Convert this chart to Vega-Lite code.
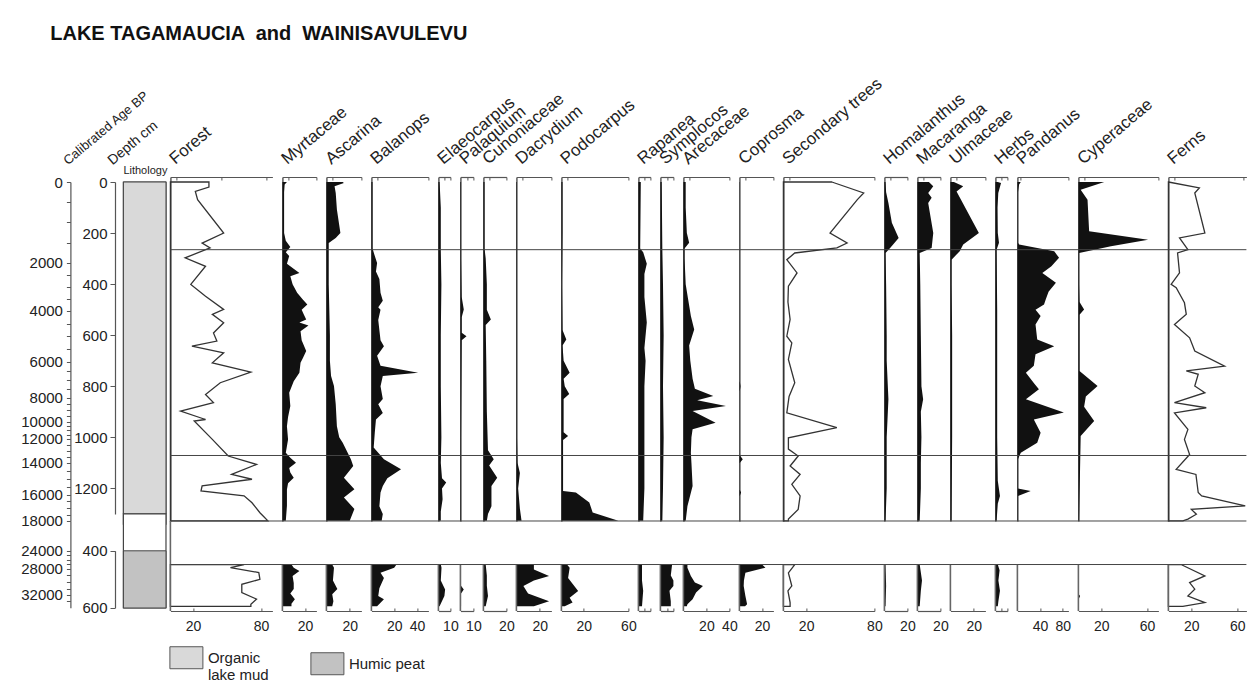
{
"$schema":"https://vega.github.io/schema/vega-lite/v6.json",
"padding":{"left":20.4,"top":23,"right":5,"bottom":5},
"title":{"text":"LAKE TAGAMAUCIA \u00a0and \u00a0WAINISAVULEVU","angle":0,"fontSize":20,"fontWeight":"bold","anchor":"start","offset":31,"dx":29.6,"color":"#111"},
"datasets":{
"zonesT":[{"depth":265},{"depth":1071},{"depth":1327.5}],
"zonesW":[{"depth":448}],
"segW":[{"top":448,"bottom":610.5}],
"segWF":[{"top":295.8,"bottom":610.5}],
"pollen":[
{"taxon":"Forest","core":"T","depth":0,"pct":34},{"taxon":"Forest","core":"T","depth":20,"pct":34},{"taxon":"Forest","core":"T","depth":37,"pct":22},{"taxon":"Forest","core":"T","depth":69,"pct":24},{"taxon":"Forest","core":"T","depth":200,"pct":47},{"taxon":"Forest","core":"T","depth":239,"pct":28},{"taxon":"Forest","core":"T","depth":258,"pct":35},{"taxon":"Forest","core":"T","depth":297,"pct":13},{"taxon":"Forest","core":"T","depth":330,"pct":31},{"taxon":"Forest","core":"T","depth":401,"pct":18},{"taxon":"Forest","core":"T","depth":447,"pct":31},{"taxon":"Forest","core":"T","depth":499,"pct":47},{"taxon":"Forest","core":"T","depth":518,"pct":37},{"taxon":"Forest","core":"T","depth":551,"pct":47},{"taxon":"Forest","core":"T","depth":591,"pct":38},{"taxon":"Forest","core":"T","depth":623,"pct":41},{"taxon":"Forest","core":"T","depth":643,"pct":19},{"taxon":"Forest","core":"T","depth":669,"pct":47},{"taxon":"Forest","core":"T","depth":708,"pct":37},{"taxon":"Forest","core":"T","depth":744,"pct":71},{"taxon":"Forest","core":"T","depth":786,"pct":44},{"taxon":"Forest","core":"T","depth":832,"pct":31},{"taxon":"Forest","core":"T","depth":864,"pct":38},{"taxon":"Forest","core":"T","depth":897,"pct":9},{"taxon":"Forest","core":"T","depth":930,"pct":31},{"taxon":"Forest","core":"T","depth":936,"pct":21},{"taxon":"Forest","core":"T","depth":1008,"pct":37},{"taxon":"Forest","core":"T","depth":1073,"pct":51},{"taxon":"Forest","core":"T","depth":1106,"pct":76},{"taxon":"Forest","core":"T","depth":1145,"pct":54},{"taxon":"Forest","core":"T","depth":1164,"pct":72},{"taxon":"Forest","core":"T","depth":1190,"pct":28},{"taxon":"Forest","core":"T","depth":1210,"pct":27},{"taxon":"Forest","core":"T","depth":1229,"pct":65},{"taxon":"Forest","core":"T","depth":1256,"pct":72},{"taxon":"Forest","core":"T","depth":1295,"pct":79},{"taxon":"Forest","core":"T","depth":1327,"pct":86},
{"taxon":"Forest","core":"W","depth":448,"pct":65},{"taxon":"Forest","core":"W","depth":459,"pct":53},{"taxon":"Forest","core":"W","depth":476,"pct":78},{"taxon":"Forest","core":"W","depth":500,"pct":79},{"taxon":"Forest","core":"W","depth":517,"pct":63},{"taxon":"Forest","core":"W","depth":546,"pct":63},{"taxon":"Forest","core":"W","depth":569,"pct":76},{"taxon":"Forest","core":"W","depth":587,"pct":71},{"taxon":"Forest","core":"W","depth":594,"pct":71},
{"taxon":"Myrtaceae","core":"T","depth":0,"pct":4},{"taxon":"Myrtaceae","core":"T","depth":10,"pct":2},{"taxon":"Myrtaceae","core":"T","depth":40,"pct":1.5},{"taxon":"Myrtaceae","core":"T","depth":200,"pct":1.5},{"taxon":"Myrtaceae","core":"T","depth":230,"pct":3},{"taxon":"Myrtaceae","core":"T","depth":255,"pct":7},{"taxon":"Myrtaceae","core":"T","depth":275,"pct":3},{"taxon":"Myrtaceae","core":"T","depth":290,"pct":6},{"taxon":"Myrtaceae","core":"T","depth":320,"pct":4},{"taxon":"Myrtaceae","core":"T","depth":356,"pct":15},{"taxon":"Myrtaceae","core":"T","depth":369,"pct":7},{"taxon":"Myrtaceae","core":"T","depth":400,"pct":9},{"taxon":"Myrtaceae","core":"T","depth":434,"pct":13},{"taxon":"Myrtaceae","core":"T","depth":460,"pct":18},{"taxon":"Myrtaceae","core":"T","depth":480,"pct":22},{"taxon":"Myrtaceae","core":"T","depth":500,"pct":17},{"taxon":"Myrtaceae","core":"T","depth":520,"pct":19},{"taxon":"Myrtaceae","core":"T","depth":538,"pct":21},{"taxon":"Myrtaceae","core":"T","depth":550,"pct":15},{"taxon":"Myrtaceae","core":"T","depth":562,"pct":23},{"taxon":"Myrtaceae","core":"T","depth":584,"pct":16},{"taxon":"Myrtaceae","core":"T","depth":620,"pct":17},{"taxon":"Myrtaceae","core":"T","depth":662,"pct":21},{"taxon":"Myrtaceae","core":"T","depth":690,"pct":18},{"taxon":"Myrtaceae","core":"T","depth":708,"pct":16},{"taxon":"Myrtaceae","core":"T","depth":747,"pct":15},{"taxon":"Myrtaceae","core":"T","depth":780,"pct":10},{"taxon":"Myrtaceae","core":"T","depth":825,"pct":6},{"taxon":"Myrtaceae","core":"T","depth":877,"pct":7},{"taxon":"Myrtaceae","core":"T","depth":920,"pct":5},{"taxon":"Myrtaceae","core":"T","depth":956,"pct":4},{"taxon":"Myrtaceae","core":"T","depth":1008,"pct":5},{"taxon":"Myrtaceae","core":"T","depth":1060,"pct":3},{"taxon":"Myrtaceae","core":"T","depth":1080,"pct":7},{"taxon":"Myrtaceae","core":"T","depth":1099,"pct":12},{"taxon":"Myrtaceae","core":"T","depth":1120,"pct":6},{"taxon":"Myrtaceae","core":"T","depth":1138,"pct":7},{"taxon":"Myrtaceae","core":"T","depth":1158,"pct":10},{"taxon":"Myrtaceae","core":"T","depth":1180,"pct":5},{"taxon":"Myrtaceae","core":"T","depth":1204,"pct":4},{"taxon":"Myrtaceae","core":"T","depth":1268,"pct":4},{"taxon":"Myrtaceae","core":"T","depth":1327,"pct":3},
{"taxon":"Myrtaceae","core":"W","depth":448,"pct":8},{"taxon":"Myrtaceae","core":"W","depth":459,"pct":10},{"taxon":"Myrtaceae","core":"W","depth":471,"pct":15},{"taxon":"Myrtaceae","core":"W","depth":488,"pct":9},{"taxon":"Myrtaceae","core":"W","depth":513,"pct":10},{"taxon":"Myrtaceae","core":"W","depth":534,"pct":10},{"taxon":"Myrtaceae","core":"W","depth":549,"pct":7},{"taxon":"Myrtaceae","core":"W","depth":569,"pct":11},{"taxon":"Myrtaceae","core":"W","depth":585,"pct":8},{"taxon":"Myrtaceae","core":"W","depth":594,"pct":8},
{"taxon":"Ascarina","core":"T","depth":0,"pct":14},{"taxon":"Ascarina","core":"T","depth":4,"pct":15},{"taxon":"Ascarina","core":"T","depth":17,"pct":7},{"taxon":"Ascarina","core":"T","depth":43,"pct":8},{"taxon":"Ascarina","core":"T","depth":108,"pct":9},{"taxon":"Ascarina","core":"T","depth":200,"pct":12},{"taxon":"Ascarina","core":"T","depth":219,"pct":8},{"taxon":"Ascarina","core":"T","depth":239,"pct":2},{"taxon":"Ascarina","core":"T","depth":270,"pct":2},{"taxon":"Ascarina","core":"T","depth":400,"pct":2},{"taxon":"Ascarina","core":"T","depth":600,"pct":3},{"taxon":"Ascarina","core":"T","depth":700,"pct":3},{"taxon":"Ascarina","core":"T","depth":760,"pct":4},{"taxon":"Ascarina","core":"T","depth":799,"pct":6.5},{"taxon":"Ascarina","core":"T","depth":870,"pct":8},{"taxon":"Ascarina","core":"T","depth":956,"pct":9},{"taxon":"Ascarina","core":"T","depth":1000,"pct":11},{"taxon":"Ascarina","core":"T","depth":1021,"pct":14},{"taxon":"Ascarina","core":"T","depth":1086,"pct":21},{"taxon":"Ascarina","core":"T","depth":1112,"pct":23},{"taxon":"Ascarina","core":"T","depth":1158,"pct":15},{"taxon":"Ascarina","core":"T","depth":1203,"pct":24},{"taxon":"Ascarina","core":"T","depth":1235,"pct":15},{"taxon":"Ascarina","core":"T","depth":1281,"pct":24},{"taxon":"Ascarina","core":"T","depth":1327,"pct":20},
{"taxon":"Ascarina","core":"W","depth":448,"pct":5},{"taxon":"Ascarina","core":"W","depth":459,"pct":6.5},{"taxon":"Ascarina","core":"W","depth":504,"pct":5.6},{"taxon":"Ascarina","core":"W","depth":534,"pct":9.4},{"taxon":"Ascarina","core":"W","depth":552,"pct":5},{"taxon":"Ascarina","core":"W","depth":576,"pct":6},{"taxon":"Ascarina","core":"W","depth":594,"pct":5},
{"taxon":"Balanops","core":"T","depth":0,"pct":1},{"taxon":"Balanops","core":"T","depth":260,"pct":1},{"taxon":"Balanops","core":"T","depth":290,"pct":3},{"taxon":"Balanops","core":"T","depth":317,"pct":5},{"taxon":"Balanops","core":"T","depth":350,"pct":4},{"taxon":"Balanops","core":"T","depth":380,"pct":7},{"taxon":"Balanops","core":"T","depth":434,"pct":8},{"taxon":"Balanops","core":"T","depth":465,"pct":10},{"taxon":"Balanops","core":"T","depth":490,"pct":6},{"taxon":"Balanops","core":"T","depth":500,"pct":8},{"taxon":"Balanops","core":"T","depth":540,"pct":6},{"taxon":"Balanops","core":"T","depth":620,"pct":8},{"taxon":"Balanops","core":"T","depth":643,"pct":11},{"taxon":"Balanops","core":"T","depth":680,"pct":5},{"taxon":"Balanops","core":"T","depth":720,"pct":8},{"taxon":"Balanops","core":"T","depth":747,"pct":41},{"taxon":"Balanops","core":"T","depth":760,"pct":10},{"taxon":"Balanops","core":"T","depth":800,"pct":8},{"taxon":"Balanops","core":"T","depth":850,"pct":10},{"taxon":"Balanops","core":"T","depth":870,"pct":6},{"taxon":"Balanops","core":"T","depth":905,"pct":10},{"taxon":"Balanops","core":"T","depth":930,"pct":4},{"taxon":"Balanops","core":"T","depth":980,"pct":3},{"taxon":"Balanops","core":"T","depth":1040,"pct":2},{"taxon":"Balanops","core":"T","depth":1060,"pct":6},{"taxon":"Balanops","core":"T","depth":1086,"pct":11},{"taxon":"Balanops","core":"T","depth":1125,"pct":26},{"taxon":"Balanops","core":"T","depth":1160,"pct":14},{"taxon":"Balanops","core":"T","depth":1190,"pct":10},{"taxon":"Balanops","core":"T","depth":1216,"pct":8},{"taxon":"Balanops","core":"T","depth":1270,"pct":7},{"taxon":"Balanops","core":"T","depth":1300,"pct":10},{"taxon":"Balanops","core":"T","depth":1327,"pct":9},
{"taxon":"Balanops","core":"W","depth":448,"pct":22},{"taxon":"Balanops","core":"W","depth":459,"pct":20},{"taxon":"Balanops","core":"W","depth":477,"pct":8},{"taxon":"Balanops","core":"W","depth":495,"pct":11},{"taxon":"Balanops","core":"W","depth":531,"pct":7},{"taxon":"Balanops","core":"W","depth":558,"pct":6},{"taxon":"Balanops","core":"W","depth":569,"pct":11},{"taxon":"Balanops","core":"W","depth":594,"pct":5},
{"taxon":"Elaeocarpus","core":"T","depth":0,"pct":1},{"taxon":"Elaeocarpus","core":"T","depth":100,"pct":2},{"taxon":"Elaeocarpus","core":"T","depth":265,"pct":2},{"taxon":"Elaeocarpus","core":"T","depth":400,"pct":2.5},{"taxon":"Elaeocarpus","core":"T","depth":600,"pct":2},{"taxon":"Elaeocarpus","core":"T","depth":800,"pct":2},{"taxon":"Elaeocarpus","core":"T","depth":1000,"pct":2.5},{"taxon":"Elaeocarpus","core":"T","depth":1100,"pct":2},{"taxon":"Elaeocarpus","core":"T","depth":1160,"pct":3},{"taxon":"Elaeocarpus","core":"T","depth":1177,"pct":6.5},{"taxon":"Elaeocarpus","core":"T","depth":1200,"pct":3},{"taxon":"Elaeocarpus","core":"T","depth":1242,"pct":3.5},{"taxon":"Elaeocarpus","core":"T","depth":1290,"pct":2},{"taxon":"Elaeocarpus","core":"T","depth":1327,"pct":2},
{"taxon":"Elaeocarpus","core":"W","depth":448,"pct":2},{"taxon":"Elaeocarpus","core":"W","depth":459,"pct":2.6},{"taxon":"Elaeocarpus","core":"W","depth":504,"pct":2},{"taxon":"Elaeocarpus","core":"W","depth":535,"pct":5.6},{"taxon":"Elaeocarpus","core":"W","depth":558,"pct":5},{"taxon":"Elaeocarpus","core":"W","depth":594,"pct":1},
{"taxon":"Palaquium","core":"T","depth":0,"pct":0.5},{"taxon":"Palaquium","core":"T","depth":300,"pct":0.5},{"taxon":"Palaquium","core":"T","depth":450,"pct":1},{"taxon":"Palaquium","core":"T","depth":499,"pct":2.6},{"taxon":"Palaquium","core":"T","depth":530,"pct":1},{"taxon":"Palaquium","core":"T","depth":590,"pct":1},{"taxon":"Palaquium","core":"T","depth":604,"pct":4.7},{"taxon":"Palaquium","core":"T","depth":620,"pct":1},{"taxon":"Palaquium","core":"T","depth":1000,"pct":0.5},{"taxon":"Palaquium","core":"T","depth":1327,"pct":0.5},
{"taxon":"Palaquium","core":"W","depth":448,"pct":0.5},{"taxon":"Palaquium","core":"W","depth":522,"pct":0.5},{"taxon":"Palaquium","core":"W","depth":535,"pct":2.6},{"taxon":"Palaquium","core":"W","depth":549,"pct":0.5},{"taxon":"Palaquium","core":"W","depth":594,"pct":0.5},
{"taxon":"Cunoniaceae","core":"T","depth":0,"pct":1},{"taxon":"Cunoniaceae","core":"T","depth":260,"pct":1},{"taxon":"Cunoniaceae","core":"T","depth":300,"pct":2},{"taxon":"Cunoniaceae","core":"T","depth":400,"pct":3},{"taxon":"Cunoniaceae","core":"T","depth":500,"pct":3},{"taxon":"Cunoniaceae","core":"T","depth":538,"pct":6.5},{"taxon":"Cunoniaceae","core":"T","depth":560,"pct":2},{"taxon":"Cunoniaceae","core":"T","depth":700,"pct":2.5},{"taxon":"Cunoniaceae","core":"T","depth":900,"pct":3},{"taxon":"Cunoniaceae","core":"T","depth":1050,"pct":4},{"taxon":"Cunoniaceae","core":"T","depth":1086,"pct":9},{"taxon":"Cunoniaceae","core":"T","depth":1110,"pct":5},{"taxon":"Cunoniaceae","core":"T","depth":1158,"pct":12},{"taxon":"Cunoniaceae","core":"T","depth":1190,"pct":7},{"taxon":"Cunoniaceae","core":"T","depth":1230,"pct":7},{"taxon":"Cunoniaceae","core":"T","depth":1270,"pct":7},{"taxon":"Cunoniaceae","core":"T","depth":1300,"pct":4},{"taxon":"Cunoniaceae","core":"T","depth":1327,"pct":3},
{"taxon":"Cunoniaceae","core":"W","depth":448,"pct":2},{"taxon":"Cunoniaceae","core":"W","depth":486,"pct":3},{"taxon":"Cunoniaceae","core":"W","depth":522,"pct":3},{"taxon":"Cunoniaceae","core":"W","depth":558,"pct":4},{"taxon":"Cunoniaceae","core":"W","depth":594,"pct":2},
{"taxon":"Dacrydium","core":"T","depth":0,"pct":0.5},{"taxon":"Dacrydium","core":"T","depth":1000,"pct":0.5},{"taxon":"Dacrydium","core":"T","depth":1100,"pct":1},{"taxon":"Dacrydium","core":"T","depth":1140,"pct":3},{"taxon":"Dacrydium","core":"T","depth":1200,"pct":1.5},{"taxon":"Dacrydium","core":"T","depth":1280,"pct":3},{"taxon":"Dacrydium","core":"T","depth":1327,"pct":4.4},
{"taxon":"Dacrydium","core":"W","depth":448,"pct":15},{"taxon":"Dacrydium","core":"W","depth":465,"pct":15},{"taxon":"Dacrydium","core":"W","depth":488,"pct":28},{"taxon":"Dacrydium","core":"W","depth":504,"pct":15},{"taxon":"Dacrydium","core":"W","depth":523,"pct":6},{"taxon":"Dacrydium","core":"W","depth":549,"pct":10},{"taxon":"Dacrydium","core":"W","depth":576,"pct":28},{"taxon":"Dacrydium","core":"W","depth":594,"pct":15},
{"taxon":"Podocarpus","core":"T","depth":0,"pct":1},{"taxon":"Podocarpus","core":"T","depth":200,"pct":1},{"taxon":"Podocarpus","core":"T","depth":400,"pct":0.5},{"taxon":"Podocarpus","core":"T","depth":580,"pct":1},{"taxon":"Podocarpus","core":"T","depth":617,"pct":4.4},{"taxon":"Podocarpus","core":"T","depth":640,"pct":1},{"taxon":"Podocarpus","core":"T","depth":700,"pct":2},{"taxon":"Podocarpus","core":"T","depth":747,"pct":7.4},{"taxon":"Podocarpus","core":"T","depth":770,"pct":2},{"taxon":"Podocarpus","core":"T","depth":800,"pct":3},{"taxon":"Podocarpus","core":"T","depth":830,"pct":7},{"taxon":"Podocarpus","core":"T","depth":850,"pct":2},{"taxon":"Podocarpus","core":"T","depth":980,"pct":2},{"taxon":"Podocarpus","core":"T","depth":995,"pct":6},{"taxon":"Podocarpus","core":"T","depth":1010,"pct":1.5},{"taxon":"Podocarpus","core":"T","depth":1210,"pct":1.5},{"taxon":"Podocarpus","core":"T","depth":1216,"pct":13},{"taxon":"Podocarpus","core":"T","depth":1255,"pct":25},{"taxon":"Podocarpus","core":"T","depth":1294,"pct":28},{"taxon":"Podocarpus","core":"T","depth":1327,"pct":51},
{"taxon":"Podocarpus","core":"W","depth":448,"pct":5},{"taxon":"Podocarpus","core":"W","depth":459,"pct":7.4},{"taxon":"Podocarpus","core":"W","depth":495,"pct":6},{"taxon":"Podocarpus","core":"W","depth":541,"pct":15},{"taxon":"Podocarpus","core":"W","depth":564,"pct":7.4},{"taxon":"Podocarpus","core":"W","depth":581,"pct":10},{"taxon":"Podocarpus","core":"W","depth":594,"pct":3},
{"taxon":"Rapanea","core":"T","depth":0,"pct":2},{"taxon":"Rapanea","core":"T","depth":260,"pct":1.5},{"taxon":"Rapanea","core":"T","depth":275,"pct":4},{"taxon":"Rapanea","core":"T","depth":320,"pct":7},{"taxon":"Rapanea","core":"T","depth":360,"pct":5},{"taxon":"Rapanea","core":"T","depth":450,"pct":5},{"taxon":"Rapanea","core":"T","depth":550,"pct":7},{"taxon":"Rapanea","core":"T","depth":650,"pct":5},{"taxon":"Rapanea","core":"T","depth":700,"pct":6},{"taxon":"Rapanea","core":"T","depth":800,"pct":5},{"taxon":"Rapanea","core":"T","depth":900,"pct":5},{"taxon":"Rapanea","core":"T","depth":1000,"pct":5},{"taxon":"Rapanea","core":"T","depth":1100,"pct":5},{"taxon":"Rapanea","core":"T","depth":1200,"pct":5},{"taxon":"Rapanea","core":"T","depth":1327,"pct":4},
{"taxon":"Rapanea","core":"W","depth":448,"pct":3},{"taxon":"Rapanea","core":"W","depth":504,"pct":3},{"taxon":"Rapanea","core":"W","depth":540,"pct":4},{"taxon":"Rapanea","core":"W","depth":594,"pct":3},
{"taxon":"Symplocos","core":"T","depth":0,"pct":1},{"taxon":"Symplocos","core":"T","depth":265,"pct":1.5},{"taxon":"Symplocos","core":"T","depth":400,"pct":2},{"taxon":"Symplocos","core":"T","depth":600,"pct":2.5},{"taxon":"Symplocos","core":"T","depth":800,"pct":2},{"taxon":"Symplocos","core":"T","depth":1000,"pct":2.5},{"taxon":"Symplocos","core":"T","depth":1200,"pct":2},{"taxon":"Symplocos","core":"T","depth":1327,"pct":1.5},
{"taxon":"Symplocos","core":"W","depth":448,"pct":9},{"taxon":"Symplocos","core":"W","depth":486,"pct":8},{"taxon":"Symplocos","core":"W","depth":504,"pct":10},{"taxon":"Symplocos","core":"W","depth":523,"pct":10},{"taxon":"Symplocos","core":"W","depth":540,"pct":7},{"taxon":"Symplocos","core":"W","depth":576,"pct":8},{"taxon":"Symplocos","core":"W","depth":594,"pct":8},
{"taxon":"Arecaceae","core":"T","depth":0,"pct":2},{"taxon":"Arecaceae","core":"T","depth":100,"pct":2},{"taxon":"Arecaceae","core":"T","depth":200,"pct":3},{"taxon":"Arecaceae","core":"T","depth":238,"pct":5},{"taxon":"Arecaceae","core":"T","depth":260,"pct":1},{"taxon":"Arecaceae","core":"T","depth":300,"pct":1},{"taxon":"Arecaceae","core":"T","depth":400,"pct":2},{"taxon":"Arecaceae","core":"T","depth":456,"pct":4},{"taxon":"Arecaceae","core":"T","depth":525,"pct":6.5},{"taxon":"Arecaceae","core":"T","depth":578,"pct":9.4},{"taxon":"Arecaceae","core":"T","depth":640,"pct":5},{"taxon":"Arecaceae","core":"T","depth":700,"pct":6},{"taxon":"Arecaceae","core":"T","depth":770,"pct":8},{"taxon":"Arecaceae","core":"T","depth":810,"pct":10},{"taxon":"Arecaceae","core":"T","depth":838,"pct":26},{"taxon":"Arecaceae","core":"T","depth":855,"pct":12},{"taxon":"Arecaceae","core":"T","depth":877,"pct":37},{"taxon":"Arecaceae","core":"T","depth":897,"pct":8},{"taxon":"Arecaceae","core":"T","depth":943,"pct":28},{"taxon":"Arecaceae","core":"T","depth":968,"pct":8},{"taxon":"Arecaceae","core":"T","depth":1000,"pct":7},{"taxon":"Arecaceae","core":"T","depth":1060,"pct":6.5},{"taxon":"Arecaceae","core":"T","depth":1100,"pct":7},{"taxon":"Arecaceae","core":"T","depth":1190,"pct":8},{"taxon":"Arecaceae","core":"T","depth":1270,"pct":3.5},{"taxon":"Arecaceae","core":"T","depth":1327,"pct":2},
{"taxon":"Arecaceae","core":"W","depth":448,"pct":3.5},{"taxon":"Arecaceae","core":"W","depth":459,"pct":3.5},{"taxon":"Arecaceae","core":"W","depth":488,"pct":6.5},{"taxon":"Arecaceae","core":"W","depth":511,"pct":10},{"taxon":"Arecaceae","core":"W","depth":523,"pct":17},{"taxon":"Arecaceae","core":"W","depth":546,"pct":11},{"taxon":"Arecaceae","core":"W","depth":569,"pct":8},{"taxon":"Arecaceae","core":"W","depth":587,"pct":3.5},{"taxon":"Arecaceae","core":"W","depth":594,"pct":3},
{"taxon":"Coprosma","core":"T","depth":0,"pct":0.3},{"taxon":"Coprosma","core":"T","depth":780,"pct":0.3},{"taxon":"Coprosma","core":"T","depth":800,"pct":1},{"taxon":"Coprosma","core":"T","depth":820,"pct":0.3},{"taxon":"Coprosma","core":"T","depth":1070,"pct":0.3},{"taxon":"Coprosma","core":"T","depth":1086,"pct":3},{"taxon":"Coprosma","core":"T","depth":1100,"pct":0.3},{"taxon":"Coprosma","core":"T","depth":1205,"pct":0.3},{"taxon":"Coprosma","core":"T","depth":1216,"pct":1.5},{"taxon":"Coprosma","core":"T","depth":1230,"pct":0.3},{"taxon":"Coprosma","core":"T","depth":1327,"pct":0.3},
{"taxon":"Coprosma","core":"W","depth":448,"pct":20},{"taxon":"Coprosma","core":"W","depth":459,"pct":23},{"taxon":"Coprosma","core":"W","depth":477,"pct":5.3},{"taxon":"Coprosma","core":"W","depth":504,"pct":4},{"taxon":"Coprosma","core":"W","depth":523,"pct":3.8},{"taxon":"Coprosma","core":"W","depth":558,"pct":5.3},{"taxon":"Coprosma","core":"W","depth":587,"pct":6.8},{"taxon":"Coprosma","core":"W","depth":594,"pct":5},
{"taxon":"Secondary trees","core":"T","depth":0,"pct":42.6},{"taxon":"Secondary trees","core":"T","depth":43,"pct":70.6},{"taxon":"Secondary trees","core":"T","depth":69,"pct":65},{"taxon":"Secondary trees","core":"T","depth":200,"pct":41},{"taxon":"Secondary trees","core":"T","depth":239,"pct":56},{"taxon":"Secondary trees","core":"T","depth":258,"pct":47},{"taxon":"Secondary trees","core":"T","depth":278,"pct":10},{"taxon":"Secondary trees","core":"T","depth":304,"pct":3},{"taxon":"Secondary trees","core":"T","depth":356,"pct":12},{"taxon":"Secondary trees","core":"T","depth":408,"pct":4.4},{"taxon":"Secondary trees","core":"T","depth":470,"pct":4},{"taxon":"Secondary trees","core":"T","depth":538,"pct":5.9},{"taxon":"Secondary trees","core":"T","depth":604,"pct":3},{"taxon":"Secondary trees","core":"T","depth":630,"pct":7.4},{"taxon":"Secondary trees","core":"T","depth":695,"pct":4.4},{"taxon":"Secondary trees","core":"T","depth":786,"pct":10},{"taxon":"Secondary trees","core":"T","depth":840,"pct":5},{"taxon":"Secondary trees","core":"T","depth":904,"pct":3},{"taxon":"Secondary trees","core":"T","depth":962,"pct":47},{"taxon":"Secondary trees","core":"T","depth":1002,"pct":4.4},{"taxon":"Secondary trees","core":"T","depth":1046,"pct":4.4},{"taxon":"Secondary trees","core":"T","depth":1073,"pct":13},{"taxon":"Secondary trees","core":"T","depth":1112,"pct":5.9},{"taxon":"Secondary trees","core":"T","depth":1145,"pct":14.7},{"taxon":"Secondary trees","core":"T","depth":1184,"pct":7.4},{"taxon":"Secondary trees","core":"T","depth":1229,"pct":14.7},{"taxon":"Secondary trees","core":"T","depth":1282,"pct":13},{"taxon":"Secondary trees","core":"T","depth":1320,"pct":4.4},{"taxon":"Secondary trees","core":"T","depth":1327,"pct":4.4},
{"taxon":"Secondary trees","core":"W","depth":448,"pct":10},{"taxon":"Secondary trees","core":"W","depth":477,"pct":4.4},{"taxon":"Secondary trees","core":"W","depth":523,"pct":7.4},{"taxon":"Secondary trees","core":"W","depth":540,"pct":4},{"taxon":"Secondary trees","core":"W","depth":581,"pct":5.9},{"taxon":"Secondary trees","core":"W","depth":594,"pct":5.9},
{"taxon":"Homalanthus","core":"T","depth":0,"pct":1},{"taxon":"Homalanthus","core":"T","depth":40,"pct":1.5},{"taxon":"Homalanthus","core":"T","depth":82,"pct":3.5},{"taxon":"Homalanthus","core":"T","depth":160,"pct":6.5},{"taxon":"Homalanthus","core":"T","depth":219,"pct":12.4},{"taxon":"Homalanthus","core":"T","depth":258,"pct":5},{"taxon":"Homalanthus","core":"T","depth":278,"pct":1},{"taxon":"Homalanthus","core":"T","depth":400,"pct":1.5},{"taxon":"Homalanthus","core":"T","depth":600,"pct":2},{"taxon":"Homalanthus","core":"T","depth":700,"pct":2},{"taxon":"Homalanthus","core":"T","depth":851,"pct":3.5},{"taxon":"Homalanthus","core":"T","depth":1000,"pct":2},{"taxon":"Homalanthus","core":"T","depth":1138,"pct":2},{"taxon":"Homalanthus","core":"T","depth":1200,"pct":2},{"taxon":"Homalanthus","core":"T","depth":1327,"pct":1},
{"taxon":"Homalanthus","core":"W","depth":448,"pct":1},{"taxon":"Homalanthus","core":"W","depth":522,"pct":1.5},{"taxon":"Homalanthus","core":"W","depth":594,"pct":1},
{"taxon":"Macaranga","core":"T","depth":0,"pct":10},{"taxon":"Macaranga","core":"T","depth":17,"pct":13.8},{"taxon":"Macaranga","core":"T","depth":43,"pct":9.4},{"taxon":"Macaranga","core":"T","depth":62,"pct":12.4},{"taxon":"Macaranga","core":"T","depth":82,"pct":9.4},{"taxon":"Macaranga","core":"T","depth":200,"pct":13.8},{"taxon":"Macaranga","core":"T","depth":258,"pct":12.4},{"taxon":"Macaranga","core":"T","depth":278,"pct":2},{"taxon":"Macaranga","core":"T","depth":400,"pct":2.5},{"taxon":"Macaranga","core":"T","depth":600,"pct":3},{"taxon":"Macaranga","core":"T","depth":800,"pct":3.5},{"taxon":"Macaranga","core":"T","depth":851,"pct":5},{"taxon":"Macaranga","core":"T","depth":900,"pct":3},{"taxon":"Macaranga","core":"T","depth":1000,"pct":3.5},{"taxon":"Macaranga","core":"T","depth":1100,"pct":3},{"taxon":"Macaranga","core":"T","depth":1200,"pct":3},{"taxon":"Macaranga","core":"T","depth":1327,"pct":2},
{"taxon":"Macaranga","core":"W","depth":448,"pct":2},{"taxon":"Macaranga","core":"W","depth":504,"pct":4},{"taxon":"Macaranga","core":"W","depth":540,"pct":3},{"taxon":"Macaranga","core":"W","depth":594,"pct":2},
{"taxon":"Ulmaceae","core":"T","depth":0,"pct":3},{"taxon":"Ulmaceae","core":"T","depth":17,"pct":11},{"taxon":"Ulmaceae","core":"T","depth":37,"pct":5.3},{"taxon":"Ulmaceae","core":"T","depth":200,"pct":24.4},{"taxon":"Ulmaceae","core":"T","depth":245,"pct":11},{"taxon":"Ulmaceae","core":"T","depth":271,"pct":8},{"taxon":"Ulmaceae","core":"T","depth":304,"pct":1},{"taxon":"Ulmaceae","core":"T","depth":400,"pct":1},{"taxon":"Ulmaceae","core":"T","depth":600,"pct":1.5},{"taxon":"Ulmaceae","core":"T","depth":800,"pct":1.5},{"taxon":"Ulmaceae","core":"T","depth":1000,"pct":1.5},{"taxon":"Ulmaceae","core":"T","depth":1327,"pct":1},
{"taxon":"Ulmaceae","core":"W","depth":448,"pct":0.5},{"taxon":"Ulmaceae","core":"W","depth":594,"pct":0.5},
{"taxon":"Herbs","core":"T","depth":0,"pct":2},{"taxon":"Herbs","core":"T","depth":4,"pct":4.7},{"taxon":"Herbs","core":"T","depth":43,"pct":2.4},{"taxon":"Herbs","core":"T","depth":100,"pct":1.8},{"taxon":"Herbs","core":"T","depth":200,"pct":2},{"taxon":"Herbs","core":"T","depth":238,"pct":3},{"taxon":"Herbs","core":"T","depth":265,"pct":1},{"taxon":"Herbs","core":"T","depth":500,"pct":1.5},{"taxon":"Herbs","core":"T","depth":800,"pct":1.5},{"taxon":"Herbs","core":"T","depth":1000,"pct":1.5},{"taxon":"Herbs","core":"T","depth":1170,"pct":2},{"taxon":"Herbs","core":"T","depth":1230,"pct":3.8},{"taxon":"Herbs","core":"T","depth":1260,"pct":2},{"taxon":"Herbs","core":"T","depth":1327,"pct":1},
{"taxon":"Herbs","core":"W","depth":448,"pct":2},{"taxon":"Herbs","core":"W","depth":468,"pct":3.5},{"taxon":"Herbs","core":"W","depth":504,"pct":2.5},{"taxon":"Herbs","core":"W","depth":540,"pct":3.8},{"taxon":"Herbs","core":"W","depth":576,"pct":2.5},{"taxon":"Herbs","core":"W","depth":594,"pct":2},
{"taxon":"Pandanus","core":"T","depth":0,"pct":6},{"taxon":"Pandanus","core":"T","depth":10,"pct":3},{"taxon":"Pandanus","core":"T","depth":40,"pct":1},{"taxon":"Pandanus","core":"T","depth":238,"pct":1},{"taxon":"Pandanus","core":"T","depth":245,"pct":3},{"taxon":"Pandanus","core":"T","depth":271,"pct":65},{"taxon":"Pandanus","core":"T","depth":297,"pct":73.5},{"taxon":"Pandanus","core":"T","depth":330,"pct":60},{"taxon":"Pandanus","core":"T","depth":356,"pct":44},{"taxon":"Pandanus","core":"T","depth":395,"pct":68},{"taxon":"Pandanus","core":"T","depth":430,"pct":55},{"taxon":"Pandanus","core":"T","depth":460,"pct":50},{"taxon":"Pandanus","core":"T","depth":480,"pct":47},{"taxon":"Pandanus","core":"T","depth":500,"pct":32},{"taxon":"Pandanus","core":"T","depth":525,"pct":41},{"taxon":"Pandanus","core":"T","depth":558,"pct":32},{"taxon":"Pandanus","core":"T","depth":617,"pct":35},{"taxon":"Pandanus","core":"T","depth":643,"pct":65},{"taxon":"Pandanus","core":"T","depth":675,"pct":32},{"taxon":"Pandanus","core":"T","depth":720,"pct":29},{"taxon":"Pandanus","core":"T","depth":747,"pct":15},{"taxon":"Pandanus","core":"T","depth":790,"pct":30},{"taxon":"Pandanus","core":"T","depth":812,"pct":38},{"taxon":"Pandanus","core":"T","depth":851,"pct":15},{"taxon":"Pandanus","core":"T","depth":903,"pct":82},{"taxon":"Pandanus","core":"T","depth":930,"pct":29},{"taxon":"Pandanus","core":"T","depth":982,"pct":41},{"taxon":"Pandanus","core":"T","depth":1021,"pct":35},{"taxon":"Pandanus","core":"T","depth":1060,"pct":6},{"taxon":"Pandanus","core":"T","depth":1086,"pct":1},{"taxon":"Pandanus","core":"T","depth":1200,"pct":1},{"taxon":"Pandanus","core":"T","depth":1210,"pct":23.5},{"taxon":"Pandanus","core":"T","depth":1230,"pct":1},{"taxon":"Pandanus","core":"T","depth":1327,"pct":1},
{"taxon":"Pandanus","core":"W","depth":448,"pct":0.5},{"taxon":"Pandanus","core":"W","depth":594,"pct":0.5},
{"taxon":"Cyperaceae","core":"T","depth":0,"pct":22.6},{"taxon":"Cyperaceae","core":"T","depth":30,"pct":2},{"taxon":"Cyperaceae","core":"T","depth":69,"pct":8},{"taxon":"Cyperaceae","core":"T","depth":193,"pct":9.4},{"taxon":"Cyperaceae","core":"T","depth":226,"pct":61},{"taxon":"Cyperaceae","core":"T","depth":252,"pct":28.5},{"taxon":"Cyperaceae","core":"T","depth":278,"pct":0.6},{"taxon":"Cyperaceae","core":"T","depth":400,"pct":0.6},{"taxon":"Cyperaceae","core":"T","depth":470,"pct":1},{"taxon":"Cyperaceae","core":"T","depth":499,"pct":5},{"taxon":"Cyperaceae","core":"T","depth":520,"pct":1},{"taxon":"Cyperaceae","core":"T","depth":740,"pct":1},{"taxon":"Cyperaceae","core":"T","depth":799,"pct":16.8},{"taxon":"Cyperaceae","core":"T","depth":840,"pct":6.5},{"taxon":"Cyperaceae","core":"T","depth":880,"pct":5},{"taxon":"Cyperaceae","core":"T","depth":936,"pct":13.8},{"taxon":"Cyperaceae","core":"T","depth":995,"pct":2},{"taxon":"Cyperaceae","core":"T","depth":1327,"pct":0.6},
{"taxon":"Cyperaceae","core":"W","depth":448,"pct":0.5},{"taxon":"Cyperaceae","core":"W","depth":553,"pct":0.5},{"taxon":"Cyperaceae","core":"W","depth":558,"pct":1.5},{"taxon":"Cyperaceae","core":"W","depth":567,"pct":0.5},{"taxon":"Cyperaceae","core":"W","depth":594,"pct":0.5},
{"taxon":"Ferns","core":"T","depth":0,"pct":0},{"taxon":"Ferns","core":"T","depth":23,"pct":27},{"taxon":"Ferns","core":"T","depth":43,"pct":23},{"taxon":"Ferns","core":"T","depth":200,"pct":31.8},{"taxon":"Ferns","core":"T","depth":219,"pct":9.7},{"taxon":"Ferns","core":"T","depth":265,"pct":17},{"taxon":"Ferns","core":"T","depth":278,"pct":8},{"taxon":"Ferns","core":"T","depth":356,"pct":9.7},{"taxon":"Ferns","core":"T","depth":401,"pct":2.4},{"taxon":"Ferns","core":"T","depth":414,"pct":6.8},{"taxon":"Ferns","core":"T","depth":473,"pct":14},{"taxon":"Ferns","core":"T","depth":518,"pct":15.6},{"taxon":"Ferns","core":"T","depth":558,"pct":5.3},{"taxon":"Ferns","core":"T","depth":610,"pct":18.5},{"taxon":"Ferns","core":"T","depth":662,"pct":23},{"taxon":"Ferns","core":"T","depth":721,"pct":49},{"taxon":"Ferns","core":"T","depth":740,"pct":15.6},{"taxon":"Ferns","core":"T","depth":753,"pct":26},{"taxon":"Ferns","core":"T","depth":799,"pct":23},{"taxon":"Ferns","core":"T","depth":825,"pct":31.8},{"taxon":"Ferns","core":"T","depth":864,"pct":5.3},{"taxon":"Ferns","core":"T","depth":884,"pct":33},{"taxon":"Ferns","core":"T","depth":904,"pct":5.3},{"taxon":"Ferns","core":"T","depth":969,"pct":17},{"taxon":"Ferns","core":"T","depth":1008,"pct":14},{"taxon":"Ferns","core":"T","depth":1067,"pct":18.5},{"taxon":"Ferns","core":"T","depth":1125,"pct":6.8},{"taxon":"Ferns","core":"T","depth":1145,"pct":24},{"taxon":"Ferns","core":"T","depth":1216,"pct":26},{"taxon":"Ferns","core":"T","depth":1229,"pct":29},{"taxon":"Ferns","core":"T","depth":1268,"pct":67},{"taxon":"Ferns","core":"T","depth":1282,"pct":20},{"taxon":"Ferns","core":"T","depth":1301,"pct":24.4},{"taxon":"Ferns","core":"T","depth":1320,"pct":17},{"taxon":"Ferns","core":"T","depth":1327,"pct":12.6},
{"taxon":"Ferns","core":"W","depth":448,"pct":11},{"taxon":"Ferns","core":"W","depth":488,"pct":31.8},{"taxon":"Ferns","core":"W","depth":511,"pct":18.5},{"taxon":"Ferns","core":"W","depth":534,"pct":23},{"taxon":"Ferns","core":"W","depth":558,"pct":17},{"taxon":"Ferns","core":"W","depth":581,"pct":31.8},{"taxon":"Ferns","core":"W","depth":594,"pct":12.6}
]},
"columns":23,
"align":"each",
"bounds":"flush",
"spacing":{"row":0,"column":10},
"concat":[
 {"width":43,"height":344,"data":{"values":[{"depth":0}]},"mark":{"type":"rule","opacity":0},
  "encoding":{"y":{"field":"depth","type":"quantitative","scale":{"domain":[-19.6,1327.5],"reverse":true,"nice":false,"zero":false},
   "axis":{"orient":"left","title":"Calibrated Age BP","values":[0,79,158,238,317,364,411,458,505,555,605,654,704,739,775,810,845,869,892,916,939,956,972,989,1005,1029,1052,1076,1099,1131,1162,1194,1225,1251,1278,1304,1327],"labelExpr":"['0','2000','4000','6000','8000','10000','12000','14000','16000','18000'][indexof([0,317,505,704,845,939,1005,1099,1225,1327], datum.value)] || ''","labelOverlap":false,"tickSize":4,"labelPadding":4,"labelFontSize":15,"domainDash":[0,5,400],"titleAngle":320,"titleAlign":"left","titleBaseline":"alphabetic","titleX":-3,"titleY":-12,"titleFontSize":13,"titleFontWeight":"normal","titleColor":"#222"}}}},
 {"width":37,"height":344,"layer":[
  {"data":{"values":[{"top":0,"bottom":1340}]},"mark":{"type":"rect","fill":"white","stroke":"#444","strokeWidth":1.2},
   "encoding":{"y":{"field":"top","type":"quantitative","scale":{"domain":[-19.6,1327.5],"reverse":true,"nice":false,"zero":false},
     "axis":{"orient":"left","offset":8.4,"title":"Depth cm","values":[0,200,400,600,800,1000,1200],"format":"d","labelOverlap":false,"tickSize":5,"labelPadding":3,"labelFontSize":15,"domainDash":[0,5,332,30],"titleAngle":320,"titleAlign":"left","titleBaseline":"alphabetic","titleX":-3,"titleY":-12,"titleFontSize":14,"titleFontWeight":"normal","titleColor":"#222"}},
    "y2":{"field":"bottom"},"x":{"datum":0,"type":"quantitative","scale":{"domain":[0,1],"nice":false,"zero":false},"axis":null},"x2":{"datum":1.151}}},
  {"data":{"values":[{"top":0,"bottom":1300}]},"mark":{"type":"rect","fill":"#d9d9d9","stroke":"#444","strokeWidth":1},
   "encoding":{"y":{"field":"top","type":"quantitative"},"y2":{"field":"bottom"},"x":{"datum":0,"type":"quantitative"},"x2":{"datum":1.151}}},
  {"data":{"values":[{"name":"Lithology"}]},"mark":{"type":"text","align":"left","baseline":"alphabetic","dy":-3,"fontSize":11,"font":"Liberation Sans","color":"#222"},
   "encoding":{"text":{"field":"name"},"x":{"datum":0,"type":"quantitative"},"y":{"datum":-19.6,"type":"quantitative"}}}]},
 {"width":102,"height":344,"layer":[
  {"data":{"name":"pollen"},"transform":[{"filter":"datum.taxon === 'Forest' && datum.core === 'T'"}],"mark":{"type":"area","orient":"horizontal","fill":"white","fillOpacity":0,"stroke":"#333","strokeWidth":1.3},
   "encoding":{"y":{"field":"depth","type":"quantitative","scale":{"domain":[-19.6,1327.5],"reverse":true,"nice":false,"zero":false},"axis":{"ticks":false,"labels":false,"title":null,"domainColor":"#666","domainWidth":1.6}},"x":{"field":"pct","type":"quantitative","stack":null,"scale":{"domain":[0,90],"nice":false},"axis":{"orient":"top","title":null,"values":[5,10,15,20,25,30,35,40,45,50,55,60,65,70,75,80,85,90]}}}},
  {"data":{"name":"zonesT"},"mark":{"type":"rule","color":"#444","strokeWidth":1},"encoding":{"y":{"field":"depth","type":"quantitative"},"x":{"datum":0,"type":"quantitative"},"x2":{"datum":99.5}}},
  {"data":{"values":[{"name":"Forest"}]},"mark":{"type":"text","angle":-40,"align":"left","baseline":"alphabetic","dx":11.5,"dy":-6,"fontSize":17,"font":"Liberation Sans","color":"#222"},"encoding":{"text":{"field":"name"},"x":{"datum":0,"type":"quantitative"},"y":{"datum":-19.6,"type":"quantitative"}}}]},
 {"width":34,"height":344,"layer":[
  {"data":{"name":"pollen"},"transform":[{"filter":"datum.taxon === 'Myrtaceae' && datum.core === 'T'"}],"mark":{"type":"area","orient":"horizontal","color":"#111"},
   "encoding":{"y":{"field":"depth","type":"quantitative","scale":{"domain":[-19.6,1327.5],"reverse":true,"nice":false,"zero":false},"axis":{"ticks":false,"labels":false,"title":null,"domainColor":"#666","domainWidth":1.6}},"x":{"field":"pct","type":"quantitative","stack":null,"scale":{"domain":[0,30],"nice":false},"axis":{"orient":"top","title":null,"values":[5,10,15,20,25,30]}}}},
  {"data":{"name":"zonesT"},"mark":{"type":"rule","color":"#444","strokeWidth":1},"encoding":{"y":{"field":"depth","type":"quantitative"},"x":{"datum":0,"type":"quantitative"},"x2":{"datum":39.5}}},
  {"data":{"values":[{"name":"Myrtaceae"}]},"mark":{"type":"text","angle":-40,"align":"left","baseline":"alphabetic","dx":11.5,"dy":-6,"fontSize":17,"font":"Liberation Sans","color":"#222"},"encoding":{"text":{"field":"name"},"x":{"datum":0,"type":"quantitative"},"y":{"datum":-19.6,"type":"quantitative"}}}]},
 {"width":35,"height":344,"layer":[
  {"data":{"name":"pollen"},"transform":[{"filter":"datum.taxon === 'Ascarina' && datum.core === 'T'"}],"mark":{"type":"area","orient":"horizontal","color":"#111"},
   "encoding":{"y":{"field":"depth","type":"quantitative","scale":{"domain":[-19.6,1327.5],"reverse":true,"nice":false,"zero":false},"axis":{"ticks":false,"labels":false,"title":null,"domainColor":"#666","domainWidth":1.6}},"x":{"field":"pct","type":"quantitative","stack":null,"scale":{"domain":[0,30],"nice":false},"axis":{"orient":"top","title":null,"values":[5,10,15,20,25,30]}}}},
  {"data":{"name":"zonesT"},"mark":{"type":"rule","color":"#444","strokeWidth":1},"encoding":{"y":{"field":"depth","type":"quantitative"},"x":{"datum":0,"type":"quantitative"},"x2":{"datum":39.2}}},
  {"data":{"values":[{"name":"Ascarina"}]},"mark":{"type":"text","angle":-40,"align":"left","baseline":"alphabetic","dx":11.5,"dy":-6,"fontSize":17,"font":"Liberation Sans","color":"#222"},"encoding":{"text":{"field":"name"},"x":{"datum":0,"type":"quantitative"},"y":{"datum":-19.6,"type":"quantitative"}}}]},
 {"width":57,"height":344,"layer":[
  {"data":{"name":"pollen"},"transform":[{"filter":"datum.taxon === 'Balanops' && datum.core === 'T'"}],"mark":{"type":"area","orient":"horizontal","color":"#111"},
   "encoding":{"y":{"field":"depth","type":"quantitative","scale":{"domain":[-19.6,1327.5],"reverse":true,"nice":false,"zero":false},"axis":{"ticks":false,"labels":false,"title":null,"domainColor":"#666","domainWidth":1.6}},"x":{"field":"pct","type":"quantitative","stack":null,"scale":{"domain":[0,50],"nice":false},"axis":{"orient":"top","title":null,"values":[5,10,15,20,25,30,35,40,45,50]}}}},
  {"data":{"name":"zonesT"},"mark":{"type":"rule","color":"#444","strokeWidth":1},"encoding":{"y":{"field":"depth","type":"quantitative"},"x":{"datum":0,"type":"quantitative"},"x2":{"datum":59.5}}},
  {"data":{"values":[{"name":"Balanops"}]},"mark":{"type":"text","angle":-40,"align":"left","baseline":"alphabetic","dx":11.5,"dy":-6,"fontSize":17,"font":"Liberation Sans","color":"#222"},"encoding":{"text":{"field":"name"},"x":{"datum":0,"type":"quantitative"},"y":{"datum":-19.6,"type":"quantitative"}}}]},
 {"width":12,"height":344,"layer":[
  {"data":{"name":"pollen"},"transform":[{"filter":"datum.taxon === 'Elaeocarpus' && datum.core === 'T'"}],"mark":{"type":"area","orient":"horizontal","color":"#111"},
   "encoding":{"y":{"field":"depth","type":"quantitative","scale":{"domain":[-19.6,1327.5],"reverse":true,"nice":false,"zero":false},"axis":{"ticks":false,"labels":false,"title":null,"domainColor":"#666","domainWidth":1.6}},"x":{"field":"pct","type":"quantitative","stack":null,"scale":{"domain":[0,10],"nice":false},"axis":{"orient":"top","title":null,"values":[5,10]}}}},
  {"data":{"name":"zonesT"},"mark":{"type":"rule","color":"#444","strokeWidth":1},"encoding":{"y":{"field":"depth","type":"quantitative"},"x":{"datum":0,"type":"quantitative"},"x2":{"datum":19}}},
  {"data":{"values":[{"name":"Elaeocarpus"}]},"mark":{"type":"text","angle":-40,"align":"left","baseline":"alphabetic","dx":11.5,"dy":-6,"fontSize":17,"font":"Liberation Sans","color":"#222"},"encoding":{"text":{"field":"name"},"x":{"datum":0,"type":"quantitative"},"y":{"datum":-19.6,"type":"quantitative"}}}]},
 {"width":13,"height":344,"layer":[
  {"data":{"name":"pollen"},"transform":[{"filter":"datum.taxon === 'Palaquium' && datum.core === 'T'"}],"mark":{"type":"area","orient":"horizontal","color":"#111"},
   "encoding":{"y":{"field":"depth","type":"quantitative","scale":{"domain":[-19.6,1327.5],"reverse":true,"nice":false,"zero":false},"axis":{"ticks":false,"labels":false,"title":null,"domainColor":"#666","domainWidth":1.6}},"x":{"field":"pct","type":"quantitative","stack":null,"scale":{"domain":[0,10],"nice":false},"axis":{"orient":"top","title":null,"values":[5,10]}}}},
  {"data":{"name":"zonesT"},"mark":{"type":"rule","color":"#444","strokeWidth":1},"encoding":{"y":{"field":"depth","type":"quantitative"},"x":{"datum":0,"type":"quantitative"},"x2":{"datum":18.5}}},
  {"data":{"values":[{"name":"Palaquium"}]},"mark":{"type":"text","angle":-40,"align":"left","baseline":"alphabetic","dx":11.5,"dy":-6,"fontSize":17,"font":"Liberation Sans","color":"#222"},"encoding":{"text":{"field":"name"},"x":{"datum":0,"type":"quantitative"},"y":{"datum":-19.6,"type":"quantitative"}}}]},
 {"width":23,"height":344,"layer":[
  {"data":{"name":"pollen"},"transform":[{"filter":"datum.taxon === 'Cunoniaceae' && datum.core === 'T'"}],"mark":{"type":"area","orient":"horizontal","color":"#111"},
   "encoding":{"y":{"field":"depth","type":"quantitative","scale":{"domain":[-19.6,1327.5],"reverse":true,"nice":false,"zero":false},"axis":{"ticks":false,"labels":false,"title":null,"domainColor":"#666","domainWidth":1.6}},"x":{"field":"pct","type":"quantitative","stack":null,"scale":{"domain":[0,20],"nice":false},"axis":{"orient":"top","title":null,"values":[5,10,15,20]}}}},
  {"data":{"name":"zonesT"},"mark":{"type":"rule","color":"#444","strokeWidth":1},"encoding":{"y":{"field":"depth","type":"quantitative"},"x":{"datum":0,"type":"quantitative"},"x2":{"datum":29.5}}},
  {"data":{"values":[{"name":"Cunoniaceae"}]},"mark":{"type":"text","angle":-40,"align":"left","baseline":"alphabetic","dx":11.5,"dy":-6,"fontSize":17,"font":"Liberation Sans","color":"#222"},"encoding":{"text":{"field":"name"},"x":{"datum":0,"type":"quantitative"},"y":{"datum":-19.6,"type":"quantitative"}}}]},
 {"width":35,"height":344,"layer":[
  {"data":{"name":"pollen"},"transform":[{"filter":"datum.taxon === 'Dacrydium' && datum.core === 'T'"}],"mark":{"type":"area","orient":"horizontal","color":"#111"},
   "encoding":{"y":{"field":"depth","type":"quantitative","scale":{"domain":[-19.6,1327.5],"reverse":true,"nice":false,"zero":false},"axis":{"ticks":false,"labels":false,"title":null,"domainColor":"#666","domainWidth":1.6}},"x":{"field":"pct","type":"quantitative","stack":null,"scale":{"domain":[0,30],"nice":false},"axis":{"orient":"top","title":null,"values":[5,10,15,20,25,30]}}}},
  {"data":{"name":"zonesT"},"mark":{"type":"rule","color":"#444","strokeWidth":1},"encoding":{"y":{"field":"depth","type":"quantitative"},"x":{"datum":0,"type":"quantitative"},"x2":{"datum":39.2}}},
  {"data":{"values":[{"name":"Dacrydium"}]},"mark":{"type":"text","angle":-40,"align":"left","baseline":"alphabetic","dx":11.5,"dy":-6,"fontSize":17,"font":"Liberation Sans","color":"#222"},"encoding":{"text":{"field":"name"},"x":{"datum":0,"type":"quantitative"},"y":{"datum":-19.6,"type":"quantitative"}}}]},
 {"width":67,"height":344,"layer":[
  {"data":{"name":"pollen"},"transform":[{"filter":"datum.taxon === 'Podocarpus' && datum.core === 'T'"}],"mark":{"type":"area","orient":"horizontal","color":"#111"},
   "encoding":{"y":{"field":"depth","type":"quantitative","scale":{"domain":[-19.6,1327.5],"reverse":true,"nice":false,"zero":false},"axis":{"ticks":false,"labels":false,"title":null,"domainColor":"#666","domainWidth":1.6}},"x":{"field":"pct","type":"quantitative","stack":null,"scale":{"domain":[0,60],"nice":false},"axis":{"orient":"top","title":null,"values":[5,10,15,20,25,30,35,40,45,50,55,60]}}}},
  {"data":{"name":"zonesT"},"mark":{"type":"rule","color":"#444","strokeWidth":1},"encoding":{"y":{"field":"depth","type":"quantitative"},"x":{"datum":0,"type":"quantitative"},"x2":{"datum":70}}},
  {"data":{"values":[{"name":"Podocarpus"}]},"mark":{"type":"text","angle":-40,"align":"left","baseline":"alphabetic","dx":11.5,"dy":-6,"fontSize":17,"font":"Liberation Sans","color":"#222"},"encoding":{"text":{"field":"name"},"x":{"datum":0,"type":"quantitative"},"y":{"datum":-19.6,"type":"quantitative"}}}]},
 {"width":12,"height":344,"layer":[
  {"data":{"name":"pollen"},"transform":[{"filter":"datum.taxon === 'Rapanea' && datum.core === 'T'"}],"mark":{"type":"area","orient":"horizontal","color":"#111"},
   "encoding":{"y":{"field":"depth","type":"quantitative","scale":{"domain":[-19.6,1327.5],"reverse":true,"nice":false,"zero":false},"axis":{"ticks":false,"labels":false,"title":null,"domainColor":"#666","domainWidth":1.6}},"x":{"field":"pct","type":"quantitative","stack":null,"scale":{"domain":[0,10],"nice":false},"axis":{"orient":"top","title":null,"values":[5,10]}}}},
  {"data":{"name":"zonesT"},"mark":{"type":"rule","color":"#444","strokeWidth":1},"encoding":{"y":{"field":"depth","type":"quantitative"},"x":{"datum":0,"type":"quantitative"},"x2":{"datum":19}}},
  {"data":{"values":[{"name":"Rapanea"}]},"mark":{"type":"text","angle":-40,"align":"left","baseline":"alphabetic","dx":11.5,"dy":-6,"fontSize":17,"font":"Liberation Sans","color":"#222"},"encoding":{"text":{"field":"name"},"x":{"datum":0,"type":"quantitative"},"y":{"datum":-19.6,"type":"quantitative"}}}]},
 {"width":13,"height":344,"layer":[
  {"data":{"name":"pollen"},"transform":[{"filter":"datum.taxon === 'Symplocos' && datum.core === 'T'"}],"mark":{"type":"area","orient":"horizontal","color":"#111"},
   "encoding":{"y":{"field":"depth","type":"quantitative","scale":{"domain":[-19.6,1327.5],"reverse":true,"nice":false,"zero":false},"axis":{"ticks":false,"labels":false,"title":null,"domainColor":"#666","domainWidth":1.6}},"x":{"field":"pct","type":"quantitative","stack":null,"scale":{"domain":[0,10],"nice":false},"axis":{"orient":"top","title":null,"values":[5,10]}}}},
  {"data":{"name":"zonesT"},"mark":{"type":"rule","color":"#444","strokeWidth":1},"encoding":{"y":{"field":"depth","type":"quantitative"},"x":{"datum":0,"type":"quantitative"},"x2":{"datum":18.5}}},
  {"data":{"values":[{"name":"Symplocos"}]},"mark":{"type":"text","angle":-40,"align":"left","baseline":"alphabetic","dx":11.5,"dy":-6,"fontSize":17,"font":"Liberation Sans","color":"#222"},"encoding":{"text":{"field":"name"},"x":{"datum":0,"type":"quantitative"},"y":{"datum":-19.6,"type":"quantitative"}}}]},
 {"width":46,"height":344,"layer":[
  {"data":{"name":"pollen"},"transform":[{"filter":"datum.taxon === 'Arecaceae' && datum.core === 'T'"}],"mark":{"type":"area","orient":"horizontal","color":"#111"},
   "encoding":{"y":{"field":"depth","type":"quantitative","scale":{"domain":[-19.6,1327.5],"reverse":true,"nice":false,"zero":false},"axis":{"ticks":false,"labels":false,"title":null,"domainColor":"#666","domainWidth":1.6}},"x":{"field":"pct","type":"quantitative","stack":null,"scale":{"domain":[0,40],"nice":false},"axis":{"orient":"top","title":null,"values":[5,10,15,20,25,30,35,40]}}}},
  {"data":{"name":"zonesT"},"mark":{"type":"rule","color":"#444","strokeWidth":1},"encoding":{"y":{"field":"depth","type":"quantitative"},"x":{"datum":0,"type":"quantitative"},"x2":{"datum":49.5}}},
  {"data":{"values":[{"name":"Arecaceae"}]},"mark":{"type":"text","angle":-40,"align":"left","baseline":"alphabetic","dx":11.5,"dy":-6,"fontSize":17,"font":"Liberation Sans","color":"#222"},"encoding":{"text":{"field":"name"},"x":{"datum":0,"type":"quantitative"},"y":{"datum":-19.6,"type":"quantitative"}}}]},
 {"width":34,"height":344,"layer":[
  {"data":{"name":"pollen"},"transform":[{"filter":"datum.taxon === 'Coprosma' && datum.core === 'T'"}],"mark":{"type":"area","orient":"horizontal","color":"#111"},
   "encoding":{"y":{"field":"depth","type":"quantitative","scale":{"domain":[-19.6,1327.5],"reverse":true,"nice":false,"zero":false},"axis":{"ticks":false,"labels":false,"title":null,"domainColor":"#666","domainWidth":1.6}},"x":{"field":"pct","type":"quantitative","stack":null,"scale":{"domain":[0,30],"nice":false},"axis":{"orient":"top","title":null,"values":[5,10,15,20,25,30]}}}},
  {"data":{"name":"zonesT"},"mark":{"type":"rule","color":"#444","strokeWidth":1},"encoding":{"y":{"field":"depth","type":"quantitative"},"x":{"datum":0,"type":"quantitative"},"x2":{"datum":39.5}}},
  {"data":{"values":[{"name":"Coprosma"}]},"mark":{"type":"text","angle":-40,"align":"left","baseline":"alphabetic","dx":11.5,"dy":-6,"fontSize":17,"font":"Liberation Sans","color":"#222"},"encoding":{"text":{"field":"name"},"x":{"datum":0,"type":"quantitative"},"y":{"datum":-19.6,"type":"quantitative"}}}]},
 {"width":91,"height":344,"layer":[
  {"data":{"name":"pollen"},"transform":[{"filter":"datum.taxon === 'Secondary trees' && datum.core === 'T'"}],"mark":{"type":"area","orient":"horizontal","fill":"white","fillOpacity":0,"stroke":"#333","strokeWidth":1.3},
   "encoding":{"y":{"field":"depth","type":"quantitative","scale":{"domain":[-19.6,1327.5],"reverse":true,"nice":false,"zero":false},"axis":{"ticks":false,"labels":false,"title":null,"domainColor":"#666","domainWidth":1.6}},"x":{"field":"pct","type":"quantitative","stack":null,"scale":{"domain":[0,80],"nice":false},"axis":{"orient":"top","title":null,"values":[5,10,15,20,25,30,35,40,45,50,55,60,65,70,75,80]}}}},
  {"data":{"name":"zonesT"},"mark":{"type":"rule","color":"#444","strokeWidth":1},"encoding":{"y":{"field":"depth","type":"quantitative"},"x":{"datum":0,"type":"quantitative"},"x2":{"datum":89.5}}},
  {"data":{"values":[{"name":"Secondary trees"}]},"mark":{"type":"text","angle":-40,"align":"left","baseline":"alphabetic","dx":11.5,"dy":-6,"fontSize":17,"font":"Liberation Sans","color":"#222"},"encoding":{"text":{"field":"name"},"x":{"datum":0,"type":"quantitative"},"y":{"datum":-19.6,"type":"quantitative"}}}]},
 {"width":23,"height":344,"layer":[
  {"data":{"name":"pollen"},"transform":[{"filter":"datum.taxon === 'Homalanthus' && datum.core === 'T'"}],"mark":{"type":"area","orient":"horizontal","color":"#111"},
   "encoding":{"y":{"field":"depth","type":"quantitative","scale":{"domain":[-19.6,1327.5],"reverse":true,"nice":false,"zero":false},"axis":{"ticks":false,"labels":false,"title":null,"domainColor":"#666","domainWidth":1.6}},"x":{"field":"pct","type":"quantitative","stack":null,"scale":{"domain":[0,20],"nice":false},"axis":{"orient":"top","title":null,"values":[5,10,15,20]}}}},
  {"data":{"name":"zonesT"},"mark":{"type":"rule","color":"#444","strokeWidth":1},"encoding":{"y":{"field":"depth","type":"quantitative"},"x":{"datum":0,"type":"quantitative"},"x2":{"datum":29.5}}},
  {"data":{"values":[{"name":"Homalanthus"}]},"mark":{"type":"text","angle":-40,"align":"left","baseline":"alphabetic","dx":11.5,"dy":-6,"fontSize":17,"font":"Liberation Sans","color":"#222"},"encoding":{"text":{"field":"name"},"x":{"datum":0,"type":"quantitative"},"y":{"datum":-19.6,"type":"quantitative"}}}]},
 {"width":23,"height":344,"layer":[
  {"data":{"name":"pollen"},"transform":[{"filter":"datum.taxon === 'Macaranga' && datum.core === 'T'"}],"mark":{"type":"area","orient":"horizontal","color":"#111"},
   "encoding":{"y":{"field":"depth","type":"quantitative","scale":{"domain":[-19.6,1327.5],"reverse":true,"nice":false,"zero":false},"axis":{"ticks":false,"labels":false,"title":null,"domainColor":"#666","domainWidth":1.6}},"x":{"field":"pct","type":"quantitative","stack":null,"scale":{"domain":[0,20],"nice":false},"axis":{"orient":"top","title":null,"values":[5,10,15,20]}}}},
  {"data":{"name":"zonesT"},"mark":{"type":"rule","color":"#444","strokeWidth":1},"encoding":{"y":{"field":"depth","type":"quantitative"},"x":{"datum":0,"type":"quantitative"},"x2":{"datum":29.5}}},
  {"data":{"values":[{"name":"Macaranga"}]},"mark":{"type":"text","angle":-40,"align":"left","baseline":"alphabetic","dx":11.5,"dy":-6,"fontSize":17,"font":"Liberation Sans","color":"#222"},"encoding":{"text":{"field":"name"},"x":{"datum":0,"type":"quantitative"},"y":{"datum":-19.6,"type":"quantitative"}}}]},
 {"width":35,"height":344,"layer":[
  {"data":{"name":"pollen"},"transform":[{"filter":"datum.taxon === 'Ulmaceae' && datum.core === 'T'"}],"mark":{"type":"area","orient":"horizontal","color":"#111"},
   "encoding":{"y":{"field":"depth","type":"quantitative","scale":{"domain":[-19.6,1327.5],"reverse":true,"nice":false,"zero":false},"axis":{"ticks":false,"labels":false,"title":null,"domainColor":"#666","domainWidth":1.6}},"x":{"field":"pct","type":"quantitative","stack":null,"scale":{"domain":[0,30],"nice":false},"axis":{"orient":"top","title":null,"values":[5,10,15,20,25,30]}}}},
  {"data":{"name":"zonesT"},"mark":{"type":"rule","color":"#444","strokeWidth":1},"encoding":{"y":{"field":"depth","type":"quantitative"},"x":{"datum":0,"type":"quantitative"},"x2":{"datum":39.2}}},
  {"data":{"values":[{"name":"Ulmaceae"}]},"mark":{"type":"text","angle":-40,"align":"left","baseline":"alphabetic","dx":11.5,"dy":-6,"fontSize":17,"font":"Liberation Sans","color":"#222"},"encoding":{"text":{"field":"name"},"x":{"datum":0,"type":"quantitative"},"y":{"datum":-19.6,"type":"quantitative"}}}]},
 {"width":12,"height":344,"layer":[
  {"data":{"name":"pollen"},"transform":[{"filter":"datum.taxon === 'Herbs' && datum.core === 'T'"}],"mark":{"type":"area","orient":"horizontal","color":"#111"},
   "encoding":{"y":{"field":"depth","type":"quantitative","scale":{"domain":[-19.6,1327.5],"reverse":true,"nice":false,"zero":false},"axis":{"ticks":false,"labels":false,"title":null,"domainColor":"#666","domainWidth":1.6}},"x":{"field":"pct","type":"quantitative","stack":null,"scale":{"domain":[0,10],"nice":false},"axis":{"orient":"top","title":null,"values":[5,10]}}}},
  {"data":{"name":"zonesT"},"mark":{"type":"rule","color":"#444","strokeWidth":1},"encoding":{"y":{"field":"depth","type":"quantitative"},"x":{"datum":0,"type":"quantitative"},"x2":{"datum":19}}},
  {"data":{"values":[{"name":"Herbs"}]},"mark":{"type":"text","angle":-40,"align":"left","baseline":"alphabetic","dx":11.5,"dy":-6,"fontSize":17,"font":"Liberation Sans","color":"#222"},"encoding":{"text":{"field":"name"},"x":{"datum":0,"type":"quantitative"},"y":{"datum":-19.6,"type":"quantitative"}}}]},
 {"width":51,"height":344,"layer":[
  {"data":{"name":"pollen"},"transform":[{"filter":"datum.taxon === 'Pandanus' && datum.core === 'T'"}],"mark":{"type":"area","orient":"horizontal","color":"#111"},
   "encoding":{"y":{"field":"depth","type":"quantitative","scale":{"domain":[-19.6,1327.5],"reverse":true,"nice":false,"zero":false},"axis":{"ticks":false,"labels":false,"title":null,"domainColor":"#666","domainWidth":1.6}},"x":{"field":"pct","type":"quantitative","stack":null,"scale":{"domain":[0,90],"nice":false},"axis":{"orient":"top","title":null,"values":[5,10,15,20,25,30,35,40,45,50,55,60,65,70,75,80,85,90]}}}},
  {"data":{"name":"zonesT"},"mark":{"type":"rule","color":"#444","strokeWidth":1},"encoding":{"y":{"field":"depth","type":"quantitative"},"x":{"datum":0,"type":"quantitative"},"x2":{"datum":108.5}}},
  {"data":{"values":[{"name":"Pandanus"}]},"mark":{"type":"text","angle":-40,"align":"left","baseline":"alphabetic","dx":11.5,"dy":-6,"fontSize":17,"font":"Liberation Sans","color":"#222"},"encoding":{"text":{"field":"name"},"x":{"datum":0,"type":"quantitative"},"y":{"datum":-19.6,"type":"quantitative"}}}]},
 {"width":80,"height":344,"layer":[
  {"data":{"name":"pollen"},"transform":[{"filter":"datum.taxon === 'Cyperaceae' && datum.core === 'T'"}],"mark":{"type":"area","orient":"horizontal","color":"#111"},
   "encoding":{"y":{"field":"depth","type":"quantitative","scale":{"domain":[-19.6,1327.5],"reverse":true,"nice":false,"zero":false},"axis":{"ticks":false,"labels":false,"title":null,"domainColor":"#666","domainWidth":1.6}},"x":{"field":"pct","type":"quantitative","stack":null,"scale":{"domain":[0,70],"nice":false},"axis":{"orient":"top","title":null,"values":[5,10,15,20,25,30,35,40,45,50,55,60,65,70]}}}},
  {"data":{"name":"zonesT"},"mark":{"type":"rule","color":"#444","strokeWidth":1},"encoding":{"y":{"field":"depth","type":"quantitative"},"x":{"datum":0,"type":"quantitative"},"x2":{"datum":79.5}}},
  {"data":{"values":[{"name":"Cyperaceae"}]},"mark":{"type":"text","angle":-40,"align":"left","baseline":"alphabetic","dx":11.5,"dy":-6,"fontSize":17,"font":"Liberation Sans","color":"#222"},"encoding":{"text":{"field":"name"},"x":{"datum":0,"type":"quantitative"},"y":{"datum":-19.6,"type":"quantitative"}}}]},
 {"width":78,"height":344,"layer":[
  {"data":{"name":"pollen"},"transform":[{"filter":"datum.taxon === 'Ferns' && datum.core === 'T'"}],"mark":{"type":"area","orient":"horizontal","fill":"white","fillOpacity":0,"stroke":"#333","strokeWidth":1.3},
   "encoding":{"y":{"field":"depth","type":"quantitative","scale":{"domain":[-19.6,1327.5],"reverse":true,"nice":false,"zero":false},"axis":{"ticks":false,"labels":false,"title":null,"domainColor":"#666","domainWidth":1.6}},"x":{"field":"pct","type":"quantitative","stack":null,"scale":{"domain":[0,68],"nice":false},"axis":{"orient":"top","title":null,"values":[5,10,15,20,25,30,35,40,45,50,55,60,65]}}}},
  {"data":{"name":"zonesT"},"mark":{"type":"rule","color":"#444","strokeWidth":1},"encoding":{"y":{"field":"depth","type":"quantitative"},"x":{"datum":0,"type":"quantitative"},"x2":{"datum":68}}},
  {"data":{"values":[{"name":"Ferns"}]},"mark":{"type":"text","angle":-40,"align":"left","baseline":"alphabetic","dx":11.5,"dy":-6,"fontSize":17,"font":"Liberation Sans","color":"#222"},"encoding":{"text":{"field":"name"},"x":{"datum":0,"type":"quantitative"},"y":{"datum":-19.6,"type":"quantitative"}}}]},

 {"width":43,"height":90,"data":{"values":[{"depth":400}]},"mark":{"type":"rule","opacity":0},
  "encoding":{"y":{"field":"depth","type":"quantitative","scale":{"domain":[295.8,610.5],"reverse":true,"nice":false,"zero":false},
   "axis":{"orient":"left","title":null,"values":[400,416,432,447,463,486,509,532,554,577],"labelExpr":"['24000','28000','32000'][indexof([400,463,554], datum.value)] || ''","labelOverlap":false,"tickSize":4,"labelPadding":4,"labelFontSize":15,"domainDash":[86.7,10]}}}},
 {"width":37,"height":90,"layer":[
  {"data":{"values":[{"top":271,"bottom":600}]},"mark":{"type":"rect","fill":"white","stroke":"#444","strokeWidth":1.2},
   "encoding":{"y":{"field":"top","type":"quantitative","scale":{"domain":[295.8,610.5],"reverse":true,"nice":false,"zero":false},
     "axis":{"orient":"left","offset":8.4,"title":null,"values":[400,600],"format":"d","labelOverlap":false,"tickSize":5,"labelPadding":3,"labelFontSize":15,"domainDash":[0,29.7,57,10]}},
    "y2":{"field":"bottom"},"x":{"datum":0,"type":"quantitative","scale":{"domain":[0,1],"nice":false,"zero":false},"axis":null},"x2":{"datum":1.151}}},
  {"data":{"values":[{"unit":"Humic peat","top":400,"bottom":600}]},"mark":{"type":"rect","stroke":"#444","strokeWidth":1},
   "encoding":{"y":{"field":"top","type":"quantitative"},"y2":{"field":"bottom"},"x":{"datum":0,"type":"quantitative"},"x2":{"datum":1.151},
    "fill":{"field":"unit","type":"nominal","scale":{"domain":["Organic lake mud","Humic peat"],"range":["#d9d9d9","#c2c2c2"]},
     "legend":{"orient":"none","legendX":104.5,"legendY":469,"direction":"horizontal","title":null,"symbolType":"M-1.5,-1H1.5V1H-1.5Z","symbolSize":484,"symbolStrokeColor":"#555","symbolStrokeWidth":1,"symbolOpacity":1,"labelFontSize":15,"labelFont":"Liberation Sans","labelColor":"#222","labelOffset":10,"columnPadding":40,"labelExpr":"datum.label === 'Organic lake mud' ? ['Organic', 'lake mud'] : datum.label"}}}}]},
 {"width":102,"height":90,"layer":[
  {"data":{"name":"pollen"},"transform":[{"filter":"datum.taxon === 'Forest' && datum.core === 'W'"}],"mark":{"type":"area","orient":"horizontal","fill":"white","fillOpacity":0,"stroke":"#333","strokeWidth":1.3},
   "encoding":{"y":{"field":"depth","type":"quantitative","scale":{"domain":[295.8,610.5],"reverse":true,"nice":false,"zero":false},"axis":null},"x":{"field":"pct","type":"quantitative","stack":null,"scale":{"domain":[0,90],"nice":false},"axis":{"orient":"bottom","title":null,"values":[20,40,60,80]}}}},
  {"data":{"name":"segWF"},"mark":{"type":"rule","color":"#666","strokeWidth":1.6},"encoding":{"y":{"field":"top","type":"quantitative","axis":null},"y2":{"field":"bottom"},"x":{"datum":0,"type":"quantitative"}}},
  {"data":{"name":"zonesW"},"mark":{"type":"rule","color":"#444","strokeWidth":1},"encoding":{"y":{"field":"depth","type":"quantitative","axis":null},"x":{"datum":0,"type":"quantitative"},"x2":{"datum":99.5}}}]},
 {"width":34,"height":90,"layer":[
  {"data":{"name":"pollen"},"transform":[{"filter":"datum.taxon === 'Myrtaceae' && datum.core === 'W'"}],"mark":{"type":"area","orient":"horizontal","color":"#111"},
   "encoding":{"y":{"field":"depth","type":"quantitative","scale":{"domain":[295.8,610.5],"reverse":true,"nice":false,"zero":false},"axis":null},"x":{"field":"pct","type":"quantitative","stack":null,"scale":{"domain":[0,30],"nice":false},"axis":{"orient":"bottom","title":null,"values":[20]}}}},
  {"data":{"name":"segW"},"mark":{"type":"rule","color":"#666","strokeWidth":1.6},"encoding":{"y":{"field":"top","type":"quantitative","axis":null},"y2":{"field":"bottom"},"x":{"datum":0,"type":"quantitative"}}},
  {"data":{"name":"zonesW"},"mark":{"type":"rule","color":"#444","strokeWidth":1},"encoding":{"y":{"field":"depth","type":"quantitative","axis":null},"x":{"datum":0,"type":"quantitative"},"x2":{"datum":39.5}}}]},
 {"width":35,"height":90,"layer":[
  {"data":{"name":"pollen"},"transform":[{"filter":"datum.taxon === 'Ascarina' && datum.core === 'W'"}],"mark":{"type":"area","orient":"horizontal","color":"#111"},
   "encoding":{"y":{"field":"depth","type":"quantitative","scale":{"domain":[295.8,610.5],"reverse":true,"nice":false,"zero":false},"axis":null},"x":{"field":"pct","type":"quantitative","stack":null,"scale":{"domain":[0,30],"nice":false},"axis":{"orient":"bottom","title":null,"values":[20]}}}},
  {"data":{"name":"segW"},"mark":{"type":"rule","color":"#666","strokeWidth":1.6},"encoding":{"y":{"field":"top","type":"quantitative","axis":null},"y2":{"field":"bottom"},"x":{"datum":0,"type":"quantitative"}}},
  {"data":{"name":"zonesW"},"mark":{"type":"rule","color":"#444","strokeWidth":1},"encoding":{"y":{"field":"depth","type":"quantitative","axis":null},"x":{"datum":0,"type":"quantitative"},"x2":{"datum":39.2}}}]},
 {"width":57,"height":90,"layer":[
  {"data":{"name":"pollen"},"transform":[{"filter":"datum.taxon === 'Balanops' && datum.core === 'W'"}],"mark":{"type":"area","orient":"horizontal","color":"#111"},
   "encoding":{"y":{"field":"depth","type":"quantitative","scale":{"domain":[295.8,610.5],"reverse":true,"nice":false,"zero":false},"axis":null},"x":{"field":"pct","type":"quantitative","stack":null,"scale":{"domain":[0,50],"nice":false},"axis":{"orient":"bottom","title":null,"values":[20,40]}}}},
  {"data":{"name":"segW"},"mark":{"type":"rule","color":"#666","strokeWidth":1.6},"encoding":{"y":{"field":"top","type":"quantitative","axis":null},"y2":{"field":"bottom"},"x":{"datum":0,"type":"quantitative"}}},
  {"data":{"name":"zonesW"},"mark":{"type":"rule","color":"#444","strokeWidth":1},"encoding":{"y":{"field":"depth","type":"quantitative","axis":null},"x":{"datum":0,"type":"quantitative"},"x2":{"datum":59.5}}}]},
 {"width":12,"height":90,"layer":[
  {"data":{"name":"pollen"},"transform":[{"filter":"datum.taxon === 'Elaeocarpus' && datum.core === 'W'"}],"mark":{"type":"area","orient":"horizontal","color":"#111"},
   "encoding":{"y":{"field":"depth","type":"quantitative","scale":{"domain":[295.8,610.5],"reverse":true,"nice":false,"zero":false},"axis":null},"x":{"field":"pct","type":"quantitative","stack":null,"scale":{"domain":[0,10],"nice":false},"axis":{"orient":"bottom","title":null,"values":[10]}}}},
  {"data":{"name":"segW"},"mark":{"type":"rule","color":"#666","strokeWidth":1.6},"encoding":{"y":{"field":"top","type":"quantitative","axis":null},"y2":{"field":"bottom"},"x":{"datum":0,"type":"quantitative"}}},
  {"data":{"name":"zonesW"},"mark":{"type":"rule","color":"#444","strokeWidth":1},"encoding":{"y":{"field":"depth","type":"quantitative","axis":null},"x":{"datum":0,"type":"quantitative"},"x2":{"datum":19}}}]},
 {"width":13,"height":90,"layer":[
  {"data":{"name":"pollen"},"transform":[{"filter":"datum.taxon === 'Palaquium' && datum.core === 'W'"}],"mark":{"type":"area","orient":"horizontal","color":"#111"},
   "encoding":{"y":{"field":"depth","type":"quantitative","scale":{"domain":[295.8,610.5],"reverse":true,"nice":false,"zero":false},"axis":null},"x":{"field":"pct","type":"quantitative","stack":null,"scale":{"domain":[0,10],"nice":false},"axis":{"orient":"bottom","title":null,"values":[10]}}}},
  {"data":{"name":"segW"},"mark":{"type":"rule","color":"#666","strokeWidth":1.6},"encoding":{"y":{"field":"top","type":"quantitative","axis":null},"y2":{"field":"bottom"},"x":{"datum":0,"type":"quantitative"}}},
  {"data":{"name":"zonesW"},"mark":{"type":"rule","color":"#444","strokeWidth":1},"encoding":{"y":{"field":"depth","type":"quantitative","axis":null},"x":{"datum":0,"type":"quantitative"},"x2":{"datum":18.5}}}]},
 {"width":23,"height":90,"layer":[
  {"data":{"name":"pollen"},"transform":[{"filter":"datum.taxon === 'Cunoniaceae' && datum.core === 'W'"}],"mark":{"type":"area","orient":"horizontal","color":"#111"},
   "encoding":{"y":{"field":"depth","type":"quantitative","scale":{"domain":[295.8,610.5],"reverse":true,"nice":false,"zero":false},"axis":null},"x":{"field":"pct","type":"quantitative","stack":null,"scale":{"domain":[0,20],"nice":false},"axis":{"orient":"bottom","title":null,"values":[20]}}}},
  {"data":{"name":"segW"},"mark":{"type":"rule","color":"#666","strokeWidth":1.6},"encoding":{"y":{"field":"top","type":"quantitative","axis":null},"y2":{"field":"bottom"},"x":{"datum":0,"type":"quantitative"}}},
  {"data":{"name":"zonesW"},"mark":{"type":"rule","color":"#444","strokeWidth":1},"encoding":{"y":{"field":"depth","type":"quantitative","axis":null},"x":{"datum":0,"type":"quantitative"},"x2":{"datum":29.5}}}]},
 {"width":35,"height":90,"layer":[
  {"data":{"name":"pollen"},"transform":[{"filter":"datum.taxon === 'Dacrydium' && datum.core === 'W'"}],"mark":{"type":"area","orient":"horizontal","color":"#111"},
   "encoding":{"y":{"field":"depth","type":"quantitative","scale":{"domain":[295.8,610.5],"reverse":true,"nice":false,"zero":false},"axis":null},"x":{"field":"pct","type":"quantitative","stack":null,"scale":{"domain":[0,30],"nice":false},"axis":{"orient":"bottom","title":null,"values":[20]}}}},
  {"data":{"name":"segW"},"mark":{"type":"rule","color":"#666","strokeWidth":1.6},"encoding":{"y":{"field":"top","type":"quantitative","axis":null},"y2":{"field":"bottom"},"x":{"datum":0,"type":"quantitative"}}},
  {"data":{"name":"zonesW"},"mark":{"type":"rule","color":"#444","strokeWidth":1},"encoding":{"y":{"field":"depth","type":"quantitative","axis":null},"x":{"datum":0,"type":"quantitative"},"x2":{"datum":39.2}}}]},
 {"width":67,"height":90,"layer":[
  {"data":{"name":"pollen"},"transform":[{"filter":"datum.taxon === 'Podocarpus' && datum.core === 'W'"}],"mark":{"type":"area","orient":"horizontal","color":"#111"},
   "encoding":{"y":{"field":"depth","type":"quantitative","scale":{"domain":[295.8,610.5],"reverse":true,"nice":false,"zero":false},"axis":null},"x":{"field":"pct","type":"quantitative","stack":null,"scale":{"domain":[0,60],"nice":false},"axis":{"orient":"bottom","title":null,"values":[20,40,60]}}}},
  {"data":{"name":"segW"},"mark":{"type":"rule","color":"#666","strokeWidth":1.6},"encoding":{"y":{"field":"top","type":"quantitative","axis":null},"y2":{"field":"bottom"},"x":{"datum":0,"type":"quantitative"}}},
  {"data":{"name":"zonesW"},"mark":{"type":"rule","color":"#444","strokeWidth":1},"encoding":{"y":{"field":"depth","type":"quantitative","axis":null},"x":{"datum":0,"type":"quantitative"},"x2":{"datum":70}}}]},
 {"width":12,"height":90,"layer":[
  {"data":{"name":"pollen"},"transform":[{"filter":"datum.taxon === 'Rapanea' && datum.core === 'W'"}],"mark":{"type":"area","orient":"horizontal","color":"#111"},
   "encoding":{"y":{"field":"depth","type":"quantitative","scale":{"domain":[295.8,610.5],"reverse":true,"nice":false,"zero":false},"axis":null},"x":{"field":"pct","type":"quantitative","stack":null,"scale":{"domain":[0,10],"nice":false},"axis":{"orient":"bottom","title":null,"values":[5,10],"labels":false}}}},
  {"data":{"name":"segW"},"mark":{"type":"rule","color":"#666","strokeWidth":1.6},"encoding":{"y":{"field":"top","type":"quantitative","axis":null},"y2":{"field":"bottom"},"x":{"datum":0,"type":"quantitative"}}},
  {"data":{"name":"zonesW"},"mark":{"type":"rule","color":"#444","strokeWidth":1},"encoding":{"y":{"field":"depth","type":"quantitative","axis":null},"x":{"datum":0,"type":"quantitative"},"x2":{"datum":19}}}]},
 {"width":13,"height":90,"layer":[
  {"data":{"name":"pollen"},"transform":[{"filter":"datum.taxon === 'Symplocos' && datum.core === 'W'"}],"mark":{"type":"area","orient":"horizontal","color":"#111"},
   "encoding":{"y":{"field":"depth","type":"quantitative","scale":{"domain":[295.8,610.5],"reverse":true,"nice":false,"zero":false},"axis":null},"x":{"field":"pct","type":"quantitative","stack":null,"scale":{"domain":[0,10],"nice":false},"axis":{"orient":"bottom","title":null,"values":[5,10],"labels":false}}}},
  {"data":{"name":"segW"},"mark":{"type":"rule","color":"#666","strokeWidth":1.6},"encoding":{"y":{"field":"top","type":"quantitative","axis":null},"y2":{"field":"bottom"},"x":{"datum":0,"type":"quantitative"}}},
  {"data":{"name":"zonesW"},"mark":{"type":"rule","color":"#444","strokeWidth":1},"encoding":{"y":{"field":"depth","type":"quantitative","axis":null},"x":{"datum":0,"type":"quantitative"},"x2":{"datum":18.5}}}]},
 {"width":46,"height":90,"layer":[
  {"data":{"name":"pollen"},"transform":[{"filter":"datum.taxon === 'Arecaceae' && datum.core === 'W'"}],"mark":{"type":"area","orient":"horizontal","color":"#111"},
   "encoding":{"y":{"field":"depth","type":"quantitative","scale":{"domain":[295.8,610.5],"reverse":true,"nice":false,"zero":false},"axis":null},"x":{"field":"pct","type":"quantitative","stack":null,"scale":{"domain":[0,40],"nice":false},"axis":{"orient":"bottom","title":null,"values":[20,40]}}}},
  {"data":{"name":"segW"},"mark":{"type":"rule","color":"#666","strokeWidth":1.6},"encoding":{"y":{"field":"top","type":"quantitative","axis":null},"y2":{"field":"bottom"},"x":{"datum":0,"type":"quantitative"}}},
  {"data":{"name":"zonesW"},"mark":{"type":"rule","color":"#444","strokeWidth":1},"encoding":{"y":{"field":"depth","type":"quantitative","axis":null},"x":{"datum":0,"type":"quantitative"},"x2":{"datum":49.5}}}]},
 {"width":34,"height":90,"layer":[
  {"data":{"name":"pollen"},"transform":[{"filter":"datum.taxon === 'Coprosma' && datum.core === 'W'"}],"mark":{"type":"area","orient":"horizontal","color":"#111"},
   "encoding":{"y":{"field":"depth","type":"quantitative","scale":{"domain":[295.8,610.5],"reverse":true,"nice":false,"zero":false},"axis":null},"x":{"field":"pct","type":"quantitative","stack":null,"scale":{"domain":[0,30],"nice":false},"axis":{"orient":"bottom","title":null,"values":[20]}}}},
  {"data":{"name":"segW"},"mark":{"type":"rule","color":"#666","strokeWidth":1.6},"encoding":{"y":{"field":"top","type":"quantitative","axis":null},"y2":{"field":"bottom"},"x":{"datum":0,"type":"quantitative"}}},
  {"data":{"name":"zonesW"},"mark":{"type":"rule","color":"#444","strokeWidth":1},"encoding":{"y":{"field":"depth","type":"quantitative","axis":null},"x":{"datum":0,"type":"quantitative"},"x2":{"datum":39.5}}}]},
 {"width":91,"height":90,"layer":[
  {"data":{"name":"pollen"},"transform":[{"filter":"datum.taxon === 'Secondary trees' && datum.core === 'W'"}],"mark":{"type":"area","orient":"horizontal","fill":"white","fillOpacity":0,"stroke":"#333","strokeWidth":1.3},
   "encoding":{"y":{"field":"depth","type":"quantitative","scale":{"domain":[295.8,610.5],"reverse":true,"nice":false,"zero":false},"axis":null},"x":{"field":"pct","type":"quantitative","stack":null,"scale":{"domain":[0,80],"nice":false},"axis":{"orient":"bottom","title":null,"values":[20,40,60,80]}}}},
  {"data":{"name":"segW"},"mark":{"type":"rule","color":"#666","strokeWidth":1.6},"encoding":{"y":{"field":"top","type":"quantitative","axis":null},"y2":{"field":"bottom"},"x":{"datum":0,"type":"quantitative"}}},
  {"data":{"name":"zonesW"},"mark":{"type":"rule","color":"#444","strokeWidth":1},"encoding":{"y":{"field":"depth","type":"quantitative","axis":null},"x":{"datum":0,"type":"quantitative"},"x2":{"datum":89.5}}}]},
 {"width":23,"height":90,"layer":[
  {"data":{"name":"pollen"},"transform":[{"filter":"datum.taxon === 'Homalanthus' && datum.core === 'W'"}],"mark":{"type":"area","orient":"horizontal","color":"#111"},
   "encoding":{"y":{"field":"depth","type":"quantitative","scale":{"domain":[295.8,610.5],"reverse":true,"nice":false,"zero":false},"axis":null},"x":{"field":"pct","type":"quantitative","stack":null,"scale":{"domain":[0,20],"nice":false},"axis":{"orient":"bottom","title":null,"values":[20]}}}},
  {"data":{"name":"segW"},"mark":{"type":"rule","color":"#666","strokeWidth":1.6},"encoding":{"y":{"field":"top","type":"quantitative","axis":null},"y2":{"field":"bottom"},"x":{"datum":0,"type":"quantitative"}}},
  {"data":{"name":"zonesW"},"mark":{"type":"rule","color":"#444","strokeWidth":1},"encoding":{"y":{"field":"depth","type":"quantitative","axis":null},"x":{"datum":0,"type":"quantitative"},"x2":{"datum":29.5}}}]},
 {"width":23,"height":90,"layer":[
  {"data":{"name":"pollen"},"transform":[{"filter":"datum.taxon === 'Macaranga' && datum.core === 'W'"}],"mark":{"type":"area","orient":"horizontal","color":"#111"},
   "encoding":{"y":{"field":"depth","type":"quantitative","scale":{"domain":[295.8,610.5],"reverse":true,"nice":false,"zero":false},"axis":null},"x":{"field":"pct","type":"quantitative","stack":null,"scale":{"domain":[0,20],"nice":false},"axis":{"orient":"bottom","title":null,"values":[20]}}}},
  {"data":{"name":"segW"},"mark":{"type":"rule","color":"#666","strokeWidth":1.6},"encoding":{"y":{"field":"top","type":"quantitative","axis":null},"y2":{"field":"bottom"},"x":{"datum":0,"type":"quantitative"}}},
  {"data":{"name":"zonesW"},"mark":{"type":"rule","color":"#444","strokeWidth":1},"encoding":{"y":{"field":"depth","type":"quantitative","axis":null},"x":{"datum":0,"type":"quantitative"},"x2":{"datum":29.5}}}]},
 {"width":35,"height":90,"layer":[
  {"data":{"name":"pollen"},"transform":[{"filter":"datum.taxon === 'Ulmaceae' && datum.core === 'W'"}],"mark":{"type":"area","orient":"horizontal","color":"#111"},
   "encoding":{"y":{"field":"depth","type":"quantitative","scale":{"domain":[295.8,610.5],"reverse":true,"nice":false,"zero":false},"axis":null},"x":{"field":"pct","type":"quantitative","stack":null,"scale":{"domain":[0,30],"nice":false},"axis":{"orient":"bottom","title":null,"values":[20]}}}},
  {"data":{"name":"segW"},"mark":{"type":"rule","color":"#666","strokeWidth":1.6},"encoding":{"y":{"field":"top","type":"quantitative","axis":null},"y2":{"field":"bottom"},"x":{"datum":0,"type":"quantitative"}}},
  {"data":{"name":"zonesW"},"mark":{"type":"rule","color":"#444","strokeWidth":1},"encoding":{"y":{"field":"depth","type":"quantitative","axis":null},"x":{"datum":0,"type":"quantitative"},"x2":{"datum":39.2}}}]},
 {"width":12,"height":90,"layer":[
  {"data":{"name":"pollen"},"transform":[{"filter":"datum.taxon === 'Herbs' && datum.core === 'W'"}],"mark":{"type":"area","orient":"horizontal","color":"#111"},
   "encoding":{"y":{"field":"depth","type":"quantitative","scale":{"domain":[295.8,610.5],"reverse":true,"nice":false,"zero":false},"axis":null},"x":{"field":"pct","type":"quantitative","stack":null,"scale":{"domain":[0,10],"nice":false},"axis":{"orient":"bottom","title":null,"values":[5,10],"labels":false}}}},
  {"data":{"name":"segW"},"mark":{"type":"rule","color":"#666","strokeWidth":1.6},"encoding":{"y":{"field":"top","type":"quantitative","axis":null},"y2":{"field":"bottom"},"x":{"datum":0,"type":"quantitative"}}},
  {"data":{"name":"zonesW"},"mark":{"type":"rule","color":"#444","strokeWidth":1},"encoding":{"y":{"field":"depth","type":"quantitative","axis":null},"x":{"datum":0,"type":"quantitative"},"x2":{"datum":19}}}]},
 {"width":51,"height":90,"layer":[
  {"data":{"name":"pollen"},"transform":[{"filter":"datum.taxon === 'Pandanus' && datum.core === 'W'"}],"mark":{"type":"area","orient":"horizontal","color":"#111"},
   "encoding":{"y":{"field":"depth","type":"quantitative","scale":{"domain":[295.8,610.5],"reverse":true,"nice":false,"zero":false},"axis":null},"x":{"field":"pct","type":"quantitative","stack":null,"scale":{"domain":[0,90],"nice":false},"axis":{"orient":"bottom","title":null,"values":[40,80]}}}},
  {"data":{"name":"segW"},"mark":{"type":"rule","color":"#666","strokeWidth":1.6},"encoding":{"y":{"field":"top","type":"quantitative","axis":null},"y2":{"field":"bottom"},"x":{"datum":0,"type":"quantitative"}}},
  {"data":{"name":"zonesW"},"mark":{"type":"rule","color":"#444","strokeWidth":1},"encoding":{"y":{"field":"depth","type":"quantitative","axis":null},"x":{"datum":0,"type":"quantitative"},"x2":{"datum":108.5}}}]},
 {"width":80,"height":90,"layer":[
  {"data":{"name":"pollen"},"transform":[{"filter":"datum.taxon === 'Cyperaceae' && datum.core === 'W'"}],"mark":{"type":"area","orient":"horizontal","color":"#111"},
   "encoding":{"y":{"field":"depth","type":"quantitative","scale":{"domain":[295.8,610.5],"reverse":true,"nice":false,"zero":false},"axis":null},"x":{"field":"pct","type":"quantitative","stack":null,"scale":{"domain":[0,70],"nice":false},"axis":{"orient":"bottom","title":null,"values":[20,40,60]}}}},
  {"data":{"name":"segW"},"mark":{"type":"rule","color":"#666","strokeWidth":1.6},"encoding":{"y":{"field":"top","type":"quantitative","axis":null},"y2":{"field":"bottom"},"x":{"datum":0,"type":"quantitative"}}},
  {"data":{"name":"zonesW"},"mark":{"type":"rule","color":"#444","strokeWidth":1},"encoding":{"y":{"field":"depth","type":"quantitative","axis":null},"x":{"datum":0,"type":"quantitative"},"x2":{"datum":79.5}}}]},
 {"width":78,"height":90,"layer":[
  {"data":{"name":"pollen"},"transform":[{"filter":"datum.taxon === 'Ferns' && datum.core === 'W'"}],"mark":{"type":"area","orient":"horizontal","fill":"white","fillOpacity":0,"stroke":"#333","strokeWidth":1.3},
   "encoding":{"y":{"field":"depth","type":"quantitative","scale":{"domain":[295.8,610.5],"reverse":true,"nice":false,"zero":false},"axis":null},"x":{"field":"pct","type":"quantitative","stack":null,"scale":{"domain":[0,68],"nice":false},"axis":{"orient":"bottom","title":null,"values":[20,40,60]}}}},
  {"data":{"name":"segW"},"mark":{"type":"rule","color":"#666","strokeWidth":1.6},"encoding":{"y":{"field":"top","type":"quantitative","axis":null},"y2":{"field":"bottom"},"x":{"datum":0,"type":"quantitative"}}},
  {"data":{"name":"zonesW"},"mark":{"type":"rule","color":"#444","strokeWidth":1},"encoding":{"y":{"field":"depth","type":"quantitative","axis":null},"x":{"datum":0,"type":"quantitative"},"x2":{"datum":68}}}]}
],
"config":{
 "font":"Liberation Sans",
 "background":"white",
 "view":{"stroke":null},
 "axis":{"grid":false,"labelFont":"Liberation Sans","labelFontSize":14,"labelColor":"#222","domainColor":"#555","tickColor":"#555","domainWidth":1.2,"tickWidth":1,"labelFlush":false,"labelOverlap":false,"labelBound":false,"titleFont":"Liberation Sans"},
 "axisTop":{"labels":false,"tickSize":-3},
 "axisBottom":{"tickSize":-3,"labelPadding":12},
 "title":{"anchor":"start","fontSize":17,"fontWeight":"normal","font":"Liberation Sans","color":"#222"}
}
}
